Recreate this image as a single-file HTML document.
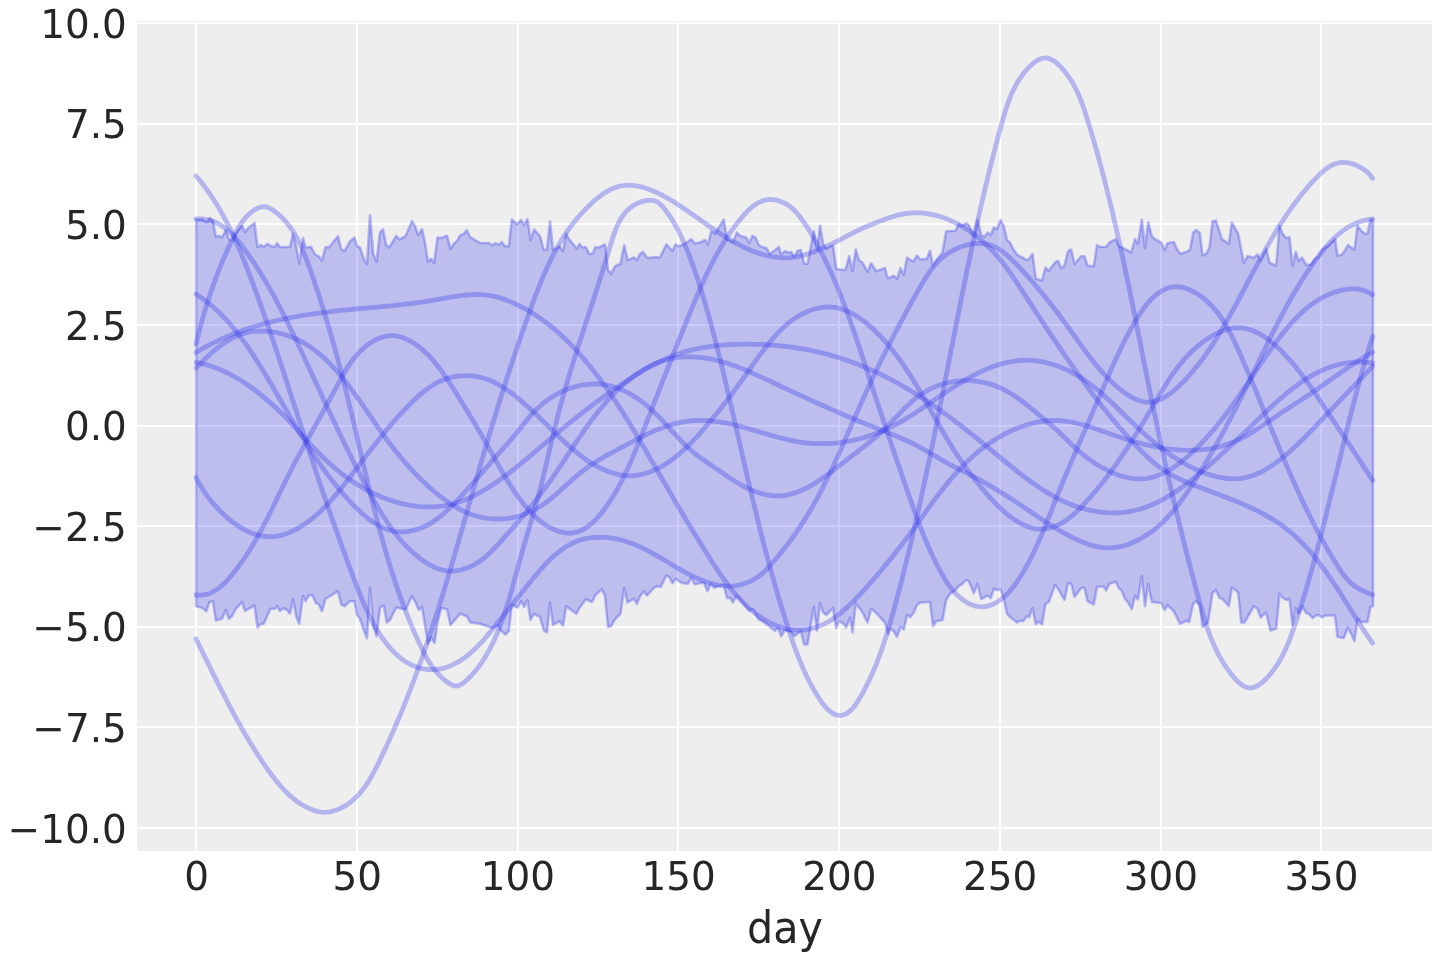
<!DOCTYPE html>
<html lang="en"><head><meta charset="utf-8"><title>day</title>
<style>html,body{margin:0;padding:0;background:#fff}body{width:1440px;height:960px;overflow:hidden}svg{display:block;will-change:transform}text{font-family:"DejaVu Sans","Liberation Sans",sans-serif;fill:#262626}</style></head><body>
<svg width="1440" height="960" viewBox="0 0 1440 960">
<rect x="0" y="0" width="1440" height="960" fill="#ffffff"/>
<rect x="137" y="21" width="1295.0" height="830.0" fill="#eeeeee"/>
<path d="M196,21V851M357,21V851M518,21V851M678,21V851M839,21V851M1000,21V851M1161,21V851M1321,21V851M137,828H1432M137,727H1432M137,627H1432M137,526H1432M137,426H1432M137,325H1432M137,224H1432M137,124H1432M137,23H1432" stroke="#ffffff" stroke-width="2" fill="none"/>
<path d="M196.2,219.5 L202.5,219.5 L206.2,222.5 L210.0,218.0 L213.0,221.2 L215.8,237.0 L219.5,235.8 L222.0,237.5 L225.8,230.0 L228.8,239.2 L232.5,240.0 L236.2,232.5 L242.0,225.8 L245.0,232.0 L248.8,227.5 L254.5,223.0 L257.5,247.0 L261.2,245.0 L263.8,247.0 L267.5,243.8 L271.2,246.2 L275.0,247.0 L277.0,243.2 L280.0,247.0 L290.0,247.0 L293.0,233.8 L296.2,246.2 L299.2,263.8 L303.0,238.0 L305.5,247.5 L311.2,247.0 L315.0,254.5 L318.8,256.2 L322.0,260.5 L325.5,247.0 L328.8,247.5 L338.0,236.2 L341.2,249.2 L344.5,251.2 L350.0,241.2 L354.5,237.5 L357.0,246.2 L360.0,247.5 L363.8,258.8 L367.0,264.2 L370.0,215.0 L373.2,253.8 L376.5,261.8 L380.0,232.5 L383.0,229.5 L386.2,245.0 L389.2,247.5 L396.2,235.8 L399.5,239.5 L405.5,236.2 L412.0,221.2 L415.0,226.2 L418.2,235.0 L422.0,229.2 L425.0,242.5 L428.0,261.8 L431.2,258.8 L434.2,263.0 L437.5,237.5 L440.8,238.0 L447.0,235.8 L450.5,248.8 L453.8,243.8 L457.0,241.2 L460.0,235.5 L463.8,233.8 L466.8,230.0 L470.0,237.0 L480.0,243.0 L488.8,243.0 L492.5,245.5 L495.5,243.0 L498.8,245.0 L501.8,242.0 L505.0,246.2 L508.8,246.2 L511.8,219.5 L516.8,224.2 L521.2,220.0 L524.2,225.0 L527.5,218.8 L530.5,240.0 L534.2,229.5 L540.0,236.2 L543.8,250.0 L547.0,249.5 L550.0,221.2 L553.0,249.5 L556.2,248.8 L559.5,246.2 L563.0,251.2 L566.2,233.8 L569.5,240.0 L573.0,243.8 L576.8,248.8 L579.5,243.8 L582.5,247.5 L585.8,247.0 L589.2,253.8 L592.5,253.8 L595.5,247.0 L598.8,247.5 L605.0,244.5 L608.0,270.0 L611.2,273.8 L615.0,266.2 L620.5,263.8 L624.2,245.0 L627.5,260.0 L630.8,258.8 L633.8,257.5 L637.0,260.0 L640.0,253.8 L643.0,252.0 L647.0,257.5 L650.0,258.0 L653.8,257.0 L660.0,257.5 L666.2,244.5 L672.5,250.8 L675.5,244.5 L678.8,246.2 L685.0,243.8 L691.2,239.2 L694.5,243.2 L700.0,242.5 L705.0,240.0 L708.0,244.5 L711.2,231.2 L715.0,233.8 L723.8,219.5 L727.0,239.5 L730.0,240.0 L733.0,242.5 L736.8,232.5 L740.0,235.8 L746.2,237.5 L749.2,243.2 L752.5,235.8 L755.5,237.5 L758.8,245.0 L762.0,247.0 L766.2,248.0 L770.0,253.8 L775.0,250.0 L778.8,247.0 L781.2,254.5 L785.0,251.2 L788.0,252.5 L791.2,252.0 L794.2,257.0 L797.5,250.8 L800.8,250.0 L804.2,263.8 L807.5,263.8 L813.8,231.2 L817.0,250.0 L820.0,225.8 L823.2,243.8 L826.2,248.8 L833.0,245.5 L836.2,268.8 L840.0,269.5 L845.5,270.0 L849.2,256.2 L852.5,271.2 L855.8,249.5 L858.8,260.0 L862.5,262.5 L867.5,271.8 L871.2,263.2 L876.2,271.2 L885.0,268.0 L887.5,278.0 L890.0,277.5 L893.8,275.8 L897.0,278.8 L900.5,268.2 L903.8,275.0 L907.0,257.5 L910.5,260.0 L913.8,261.2 L917.0,255.5 L920.5,259.5 L926.8,258.8 L930.0,250.8 L933.0,266.2 L936.2,260.0 L942.5,252.5 L946.2,231.2 L955.5,230.8 L958.8,223.8 L962.5,225.8 L965.8,223.2 L968.8,225.0 L973.8,236.2 L977.5,219.5 L981.2,235.0 L984.5,236.8 L987.5,232.5 L990.8,235.0 L993.8,227.5 L997.0,229.2 L1000.5,220.0 L1003.8,226.2 L1007.0,240.0 L1010.0,242.5 L1013.8,250.0 L1017.5,255.0 L1027.0,260.0 L1029.2,258.8 L1032.5,253.8 L1035.8,278.8 L1042.0,280.5 L1045.5,267.5 L1048.8,270.8 L1055.0,262.5 L1058.0,260.8 L1061.2,268.0 L1064.5,265.8 L1068.0,251.2 L1071.2,249.5 L1074.5,264.2 L1081.2,256.2 L1084.5,256.2 L1087.5,265.8 L1093.8,266.2 L1097.0,245.0 L1100.0,246.8 L1106.2,247.0 L1109.5,242.5 L1115.8,239.2 L1118.8,246.2 L1122.0,247.5 L1131.2,252.5 L1135.0,239.2 L1138.0,243.8 L1141.8,219.5 L1145.0,248.0 L1148.2,222.5 L1151.8,236.2 L1155.0,239.2 L1161.2,242.5 L1164.5,250.0 L1167.5,243.2 L1173.8,242.0 L1177.0,249.2 L1180.0,253.8 L1186.2,252.0 L1190.0,249.5 L1193.2,232.5 L1196.2,230.0 L1200.0,233.2 L1202.5,255.5 L1206.2,253.8 L1209.5,247.5 L1212.5,221.2 L1215.8,220.5 L1222.0,239.2 L1228.8,243.8 L1231.8,222.5 L1238.2,233.8 L1243.8,263.2 L1247.5,256.2 L1253.8,257.5 L1257.5,254.5 L1260.5,260.8 L1266.2,248.8 L1269.5,262.5 L1276.2,265.8 L1279.5,225.8 L1282.5,233.8 L1286.2,238.2 L1289.5,237.0 L1292.5,265.8 L1295.8,252.0 L1298.8,261.2 L1302.0,257.5 L1306.2,265.0 L1311.2,264.5 L1315.0,258.8 L1318.8,256.2 L1322.0,250.0 L1325.0,247.5 L1328.8,245.5 L1335.0,238.8 L1337.5,255.5 L1341.2,255.0 L1344.5,251.2 L1348.0,245.0 L1351.2,247.5 L1354.5,249.5 L1357.5,225.8 L1361.2,230.8 L1365.0,233.8 L1367.5,233.8 L1370.5,219.5 L1373.0,219.5 L1373.0,606.2 L1370.5,607.0 L1367.5,622.0 L1361.2,622.0 L1357.5,618.8 L1354.5,641.2 L1351.2,633.8 L1348.0,627.5 L1343.8,638.0 L1337.5,637.0 L1335.0,615.5 L1325.0,615.5 L1322.0,617.5 L1318.8,615.0 L1315.8,615.5 L1312.5,618.0 L1308.8,613.8 L1306.2,613.2 L1302.0,606.2 L1298.8,613.8 L1295.8,608.0 L1292.5,625.0 L1289.5,598.8 L1286.2,600.0 L1283.0,598.0 L1279.5,593.8 L1276.2,628.8 L1270.5,630.5 L1266.2,612.5 L1260.5,617.5 L1257.5,608.8 L1253.8,606.2 L1244.5,622.5 L1241.2,622.5 L1238.2,592.5 L1231.8,587.5 L1228.8,606.2 L1222.5,598.8 L1219.5,598.0 L1215.8,590.0 L1212.5,593.0 L1208.0,622.5 L1202.5,627.0 L1200.0,605.0 L1196.2,601.2 L1193.2,603.8 L1189.2,622.0 L1186.2,620.8 L1180.0,623.8 L1173.8,611.2 L1167.5,605.0 L1164.5,610.0 L1161.2,603.0 L1151.8,602.0 L1148.2,583.8 L1145.0,606.2 L1141.8,576.2 L1138.0,599.5 L1135.0,595.8 L1131.8,609.2 L1128.2,602.5 L1125.0,598.8 L1122.0,591.2 L1118.8,588.0 L1115.8,581.8 L1109.5,583.8 L1106.2,590.5 L1103.2,586.2 L1097.0,587.0 L1093.8,604.5 L1087.5,601.2 L1084.5,588.0 L1081.2,588.0 L1074.5,597.0 L1071.2,583.8 L1068.0,583.2 L1064.5,600.0 L1058.0,588.8 L1055.0,585.0 L1048.8,602.0 L1045.5,603.8 L1042.0,624.2 L1038.8,621.8 L1035.8,624.2 L1032.5,608.0 L1029.2,617.0 L1027.0,616.2 L1023.2,621.2 L1020.0,620.8 L1017.0,622.5 L1010.0,617.0 L1007.0,613.8 L1003.8,598.8 L1000.5,589.5 L997.0,590.0 L993.8,588.8 L990.8,598.0 L987.5,595.5 L981.2,599.2 L977.5,583.8 L973.8,593.0 L968.8,581.2 L965.8,580.0 L962.5,583.8 L958.8,586.2 L955.5,590.0 L950.0,593.8 L946.2,600.0 L942.5,620.0 L936.2,621.2 L933.0,626.2 L930.0,602.0 L920.5,602.5 L917.0,605.0 L913.8,612.5 L910.5,617.0 L907.0,615.0 L903.8,629.5 L900.5,627.0 L897.0,637.0 L893.8,631.2 L890.0,628.2 L888.0,633.8 L885.0,622.5 L876.2,613.0 L871.2,608.8 L867.5,622.5 L862.5,612.5 L855.8,603.2 L852.5,632.5 L850.0,617.5 L846.2,627.5 L843.8,623.8 L839.2,620.8 L836.2,628.0 L833.0,608.0 L826.2,615.0 L823.2,612.5 L820.0,603.0 L817.0,630.5 L813.8,607.0 L807.5,644.5 L804.2,644.5 L800.8,631.2 L794.2,636.2 L791.2,632.0 L785.0,630.0 L781.2,636.2 L778.0,627.5 L775.0,630.8 L762.0,620.8 L758.8,619.5 L752.5,608.8 L749.5,610.8 L740.0,599.5 L736.2,595.8 L733.0,602.5 L730.0,597.5 L727.0,598.2 L723.8,585.0 L717.5,586.2 L714.5,588.0 L710.8,583.8 L707.5,591.2 L703.8,582.5 L694.5,584.2 L691.2,577.5 L688.2,583.8 L682.0,583.0 L675.5,578.8 L672.5,583.2 L669.2,577.0 L666.2,575.8 L660.8,587.0 L657.5,586.2 L653.8,588.0 L647.0,595.5 L643.8,591.2 L640.0,596.2 L637.0,603.8 L633.8,598.8 L627.5,602.5 L624.2,588.0 L620.5,613.8 L615.0,619.2 L611.2,626.2 L608.0,627.0 L605.0,595.8 L602.0,589.2 L595.5,595.0 L592.0,602.0 L585.8,599.2 L579.5,608.0 L576.2,613.8 L566.2,606.2 L563.0,625.8 L559.5,621.2 L553.0,625.0 L550.0,602.5 L547.0,632.5 L543.8,630.5 L540.0,617.0 L533.8,613.8 L530.5,620.0 L527.5,600.0 L524.2,607.0 L521.2,601.2 L517.5,607.5 L511.8,604.5 L508.8,631.2 L505.5,634.5 L500.0,630.0 L498.8,625.0 L492.5,628.0 L480.0,623.8 L470.5,622.5 L466.8,616.2 L460.0,613.8 L450.5,625.0 L447.0,609.2 L441.2,608.0 L437.5,622.5 L434.5,643.0 L431.2,637.5 L428.0,643.8 L425.0,625.0 L422.0,607.0 L418.8,610.0 L415.0,601.2 L412.0,596.2 L405.5,609.5 L396.2,607.5 L390.0,620.0 L386.8,622.5 L383.8,605.5 L380.0,607.5 L376.5,636.2 L373.2,625.8 L370.0,588.0 L367.0,638.2 L363.8,630.0 L360.0,618.8 L357.0,615.0 L354.5,601.2 L350.0,601.2 L344.5,606.2 L341.2,604.5 L338.0,591.2 L325.5,598.8 L322.0,611.2 L318.8,604.5 L315.8,603.0 L312.5,595.0 L308.8,595.5 L305.5,601.2 L303.0,596.2 L299.2,623.8 L296.2,616.2 L293.0,599.2 L290.0,613.8 L287.0,610.0 L283.0,608.2 L280.0,611.2 L277.0,606.2 L275.0,608.8 L270.5,608.8 L263.8,623.8 L261.2,623.8 L257.5,627.5 L254.5,605.5 L245.0,610.8 L242.0,602.0 L235.8,608.8 L232.0,616.2 L228.8,618.8 L225.8,610.0 L222.0,618.8 L215.8,620.5 L213.0,601.2 L209.5,602.0 L206.2,611.2 L202.5,608.0 L196.2,606.2Z" fill="#2a2eec" fill-opacity="0.25" stroke="#2a2eec" stroke-opacity="0.3" stroke-width="2.6" stroke-linejoin="round"/>
<g fill="none" stroke="#2a2eec" stroke-opacity="0.3" stroke-width="4.8" stroke-linecap="round" stroke-linejoin="round">
<path d="M196.0,176.0 L198.0,178.3 L199.9,180.6 L201.8,182.9 L203.6,185.3 L205.4,187.7 L207.2,190.1 L208.9,192.5 L210.6,195.0 L212.3,197.5 L213.9,200.0 L215.5,202.5 L217.1,205.0 L218.7,207.6 L220.2,210.2 L221.6,212.8 L223.1,215.4 L224.5,218.0 L225.9,220.6 L227.3,223.3 L228.7,226.0 L230.0,228.6 L231.3,231.3 L232.6,234.1 L233.8,236.8 L235.1,239.5 L236.3,242.2 L237.5,245.0 L238.7,247.8 L239.9,250.5 L241.1,253.3 L242.2,256.1 L243.3,258.9 L244.5,261.7 L245.6,264.5 L246.7,267.3 L247.8,270.1 L248.8,272.9 L249.9,275.7 L251.0,278.5 L252.0,281.3 L253.1,284.1 L254.1,286.9 L255.2,289.8 L256.2,292.6 L257.3,295.4 L258.3,298.2 L259.3,301.0 L260.3,303.9 L261.3,306.7 L262.3,309.5 L263.3,312.3 L264.3,315.2 L265.3,318.0 L266.3,320.8 L267.3,323.7 L268.3,326.5 L269.2,329.3 L270.2,332.1 L271.2,335.0 L272.1,337.8 L273.1,340.6 L274.1,343.5 L275.0,346.3 L276.0,349.2 L276.9,352.0 L277.8,354.8 L278.8,357.7 L279.7,360.5 L280.7,363.4 L281.6,366.2 L282.5,369.0 L283.5,371.9 L284.4,374.7 L285.3,377.6 L286.2,380.4 L287.2,383.3 L288.1,386.1 L289.0,389.0 L289.9,391.8 L290.9,394.7 L291.8,397.5 L292.7,400.4 L293.6,403.2 L294.6,406.1 L295.5,408.9 L296.4,411.8 L297.3,414.6 L298.2,417.5 L299.2,420.3 L300.1,423.2 L301.0,426.0 L301.9,428.9 L302.9,431.7 L303.8,434.6 L304.7,437.4 L305.6,440.3 L306.6,443.1 L307.5,446.0 L308.4,448.9 L309.4,451.7 L310.3,454.6 L311.3,457.4 L312.2,460.3 L313.2,463.1 L314.1,466.0 L315.1,468.8 L316.0,471.7 L317.0,474.5 L317.9,477.4 L318.9,480.2 L319.8,483.1 L320.8,486.0 L321.8,488.8 L322.7,491.7 L323.7,494.5 L324.7,497.3 L325.7,500.2 L326.6,503.0 L327.6,505.9 L328.6,508.7 L329.6,511.6 L330.6,514.4 L331.6,517.2 L332.6,520.1 L333.6,522.9 L334.6,525.7 L335.6,528.6 L336.6,531.4 L337.6,534.2 L338.6,537.0 L339.6,539.9 L340.6,542.7 L341.6,545.5 L342.6,548.3 L343.7,551.1 L344.7,553.9 L345.7,556.7 L346.7,559.6 L347.8,562.4 L348.8,565.2 L349.8,567.9 L350.9,570.7 L351.9,573.5 L353.0,576.3 L354.0,579.1 L355.1,581.9 L356.1,584.7 L357.2,587.4 L358.3,590.2 L359.3,593.0 L360.4,595.7 L361.6,598.5 L362.7,601.2 L363.9,603.9 L365.1,606.7 L366.3,609.4 L367.5,612.1 L368.8,614.8 L370.2,617.5 L371.5,620.2 L373.0,622.8 L374.5,625.5 L376.0,628.1 L377.6,630.8 L379.2,633.4 L380.9,636.0 L382.7,638.5 L384.5,641.1 L386.4,643.5 L388.3,645.9 L390.3,648.3 L392.4,650.5 L394.5,652.7 L396.8,654.8 L399.0,656.8 L401.4,658.7 L403.8,660.4 L406.2,662.0 L408.8,663.5 L411.4,664.9 L414.0,666.1 L416.8,667.1 L419.6,668.0 L422.4,668.7 L425.3,669.2 L428.3,669.5 L431.2,669.7 L434.1,669.6 L437.1,669.4 L440.0,669.0 L442.9,668.4 L445.7,667.6 L448.5,666.6 L451.3,665.4 L454.0,664.1 L456.7,662.7 L459.4,661.1 L462.0,659.5 L464.5,657.7 L467.0,655.8 L469.4,653.8 L471.8,651.8 L474.1,649.7 L476.3,647.6 L478.5,645.4 L480.6,643.2 L482.7,641.0 L484.7,638.7 L486.6,636.4 L488.5,634.1 L490.4,631.8 L492.3,629.5 L494.1,627.2 L496.0,624.9 L497.8,622.6 L499.6,620.3 L501.4,618.1 L503.3,615.8 L505.1,613.5 L506.9,611.2 L508.7,608.9 L510.5,606.7 L512.4,604.4 L514.2,602.1 L516.0,599.8 L517.9,597.5 L519.7,595.1 L521.6,592.8 L523.5,590.5 L525.3,588.1 L527.2,585.7 L529.2,583.3 L531.1,580.9 L533.0,578.5 L535.0,576.1 L537.0,573.8 L539.0,571.4 L541.0,569.1 L543.1,566.8 L545.2,564.5 L547.3,562.3 L549.5,560.1 L551.7,558.0 L553.9,556.0 L556.2,554.0 L558.5,552.1 L560.9,550.3 L563.3,548.6 L565.7,547.0 L568.2,545.5 L570.8,544.1 L573.4,542.8 L576.0,541.6 L578.7,540.6 L581.5,539.7 L584.3,538.9 L587.2,538.3 L590.2,537.8 L593.2,537.5 L596.2,537.3 L599.2,537.2 L602.3,537.3 L605.3,537.4 L608.4,537.7 L611.5,538.1 L614.5,538.6 L617.5,539.2 L620.5,539.8 L623.4,540.6 L626.3,541.5 L629.1,542.4 L631.9,543.4 L634.6,544.5 L637.4,545.6 L640.1,546.8 L642.7,548.1 L645.4,549.4 L648.0,550.8 L650.6,552.2 L653.2,553.6 L655.8,555.1 L658.3,556.6 L660.9,558.1 L663.5,559.6 L666.1,561.1 L668.6,562.7 L671.2,564.2 L673.8,565.8 L676.4,567.3 L679.1,568.9 L681.7,570.4 L684.4,571.8 L687.1,573.3 L689.9,574.7 L692.7,576.1 L695.4,577.4 L698.3,578.7 L701.1,579.9 L703.9,581.0 L706.8,582.1 L709.7,583.0 L712.6,583.8 L715.5,584.5 L718.4,585.1 L721.3,585.6 L724.2,585.9 L727.1,586.1 L730.1,586.1 L733.0,586.0 L735.9,585.6 L738.8,585.1 L741.6,584.4 L744.5,583.6 L747.3,582.6 L750.0,581.4 L752.7,580.1 L755.3,578.6 L757.8,576.9 L760.2,575.1 L762.5,573.2 L764.8,571.2 L766.9,569.0 L769.0,566.8 L771.0,564.6 L773.0,562.3 L775.0,559.9 L776.9,557.6 L778.9,555.2 L780.8,552.9 L782.7,550.5 L784.5,548.2 L786.4,545.8 L788.2,543.4 L790.0,541.0 L791.8,538.6 L793.5,536.2 L795.3,533.8 L797.0,531.3 L798.7,528.9 L800.3,526.4 L802.0,523.9 L803.6,521.4 L805.2,518.9 L806.8,516.3 L808.3,513.8 L809.8,511.2 L811.3,508.7 L812.8,506.1 L814.3,503.5 L815.8,500.9 L817.2,498.2 L818.6,495.6 L820.0,493.0 L821.4,490.3 L822.8,487.7 L824.1,485.0 L825.5,482.3 L826.8,479.6 L828.1,476.9 L829.4,474.2 L830.7,471.5 L832.0,468.8 L833.3,466.1 L834.5,463.3 L835.8,460.6 L837.0,457.9 L838.3,455.1 L839.5,452.4 L840.7,449.6 L842.0,446.9 L843.2,444.1 L844.4,441.4 L845.6,438.6 L846.8,435.8 L848.0,433.1 L849.2,430.3 L850.4,427.6 L851.6,424.8 L852.8,422.0 L854.0,419.3 L855.2,416.5 L856.4,413.8 L857.6,411.0 L858.9,408.3 L860.1,405.5 L861.3,402.8 L862.5,400.1 L863.8,397.3 L865.0,394.6 L866.2,391.9 L867.5,389.2 L868.8,386.5 L870.0,383.8 L871.3,381.1 L872.5,378.4 L873.8,375.7 L875.1,373.0 L876.4,370.3 L877.7,367.6 L879.0,364.9 L880.3,362.2 L881.6,359.5 L882.9,356.9 L884.3,354.2 L885.6,351.5 L886.9,348.9 L888.3,346.2 L889.6,343.5 L891.0,340.9 L892.3,338.2 L893.7,335.5 L895.1,332.9 L896.5,330.2 L897.9,327.6 L899.3,324.9 L900.7,322.3 L902.1,319.6 L903.5,317.0 L904.9,314.4 L906.3,311.7 L907.8,309.1 L909.2,306.4 L910.7,303.8 L912.1,301.2 L913.6,298.5 L915.1,295.9 L916.6,293.3 L918.1,290.6 L919.6,288.0 L921.1,285.4 L922.6,282.7 L924.2,280.2 L925.8,277.6 L927.4,275.1 L929.1,272.6 L930.9,270.2 L932.7,267.8 L934.6,265.5 L936.6,263.3 L938.7,261.1 L940.9,259.0 L943.2,257.1 L945.6,255.2 L948.1,253.4 L950.7,251.8 L953.3,250.3 L956.1,248.9 L958.8,247.6 L961.7,246.5 L964.5,245.6 L967.4,244.8 L970.3,244.2 L973.2,243.7 L976.2,243.5 L979.0,243.4 L981.9,243.5 L984.8,243.8 L987.6,244.4 L990.3,245.1 L993.0,246.1 L995.6,247.3 L998.1,248.7 L1000.6,250.3 L1003.1,252.0 L1005.4,253.9 L1007.8,255.9 L1010.1,258.0 L1012.3,260.1 L1014.5,262.4 L1016.7,264.6 L1018.9,266.9 L1021.0,269.1 L1023.1,271.4 L1025.2,273.7 L1027.2,275.9 L1029.3,278.2 L1031.3,280.5 L1033.3,282.8 L1035.2,285.1 L1037.2,287.4 L1039.1,289.7 L1041.0,292.0 L1042.9,294.3 L1044.8,296.6 L1046.7,298.9 L1048.5,301.3 L1050.4,303.6 L1052.2,305.9 L1054.0,308.3 L1055.8,310.6 L1057.6,313.0 L1059.4,315.3 L1061.1,317.7 L1062.9,320.1 L1064.6,322.4 L1066.4,324.8 L1068.1,327.2 L1069.9,329.6 L1071.6,332.0 L1073.4,334.4 L1075.1,336.8 L1076.8,339.2 L1078.5,341.6 L1080.3,344.1 L1082.0,346.5 L1083.8,348.9 L1085.5,351.3 L1087.3,353.7 L1089.1,356.1 L1090.9,358.5 L1092.8,360.9 L1094.6,363.2 L1096.5,365.6 L1098.5,367.9 L1100.4,370.2 L1102.4,372.4 L1104.5,374.7 L1106.6,376.9 L1108.7,379.1 L1110.9,381.2 L1113.2,383.3 L1115.5,385.4 L1117.9,387.5 L1120.3,389.4 L1122.8,391.4 L1125.3,393.2 L1127.9,395.0 L1130.5,396.6 L1133.1,398.0 L1135.8,399.3 L1138.5,400.4 L1141.2,401.2 L1143.9,401.8 L1146.6,402.2 L1149.3,402.2 L1152.0,401.9 L1154.7,401.4 L1157.3,400.6 L1159.9,399.6 L1162.5,398.4 L1165.1,396.9 L1167.6,395.3 L1170.1,393.6 L1172.6,391.7 L1175.0,389.6 L1177.4,387.5 L1179.7,385.3 L1182.0,383.1 L1184.2,380.8 L1186.4,378.5 L1188.5,376.2 L1190.5,373.9 L1192.6,371.6 L1194.5,369.2 L1196.4,366.9 L1198.3,364.5 L1200.2,362.1 L1202.0,359.7 L1203.7,357.3 L1205.5,354.9 L1207.2,352.5 L1208.8,350.0 L1210.5,347.6 L1212.1,345.1 L1213.7,342.7 L1215.3,340.2 L1216.9,337.7 L1218.4,335.1 L1220.0,332.6 L1221.5,330.1 L1223.0,327.5 L1224.5,324.9 L1226.0,322.3 L1227.5,319.8 L1229.0,317.2 L1230.4,314.6 L1231.9,311.9 L1233.3,309.3 L1234.7,306.7 L1236.2,304.0 L1237.6,301.4 L1239.0,298.8 L1240.4,296.1 L1241.8,293.5 L1243.3,290.8 L1244.7,288.1 L1246.1,285.5 L1247.5,282.8 L1248.9,280.1 L1250.3,277.5 L1251.7,274.8 L1253.1,272.2 L1254.6,269.5 L1256.0,266.8 L1257.4,264.2 L1258.8,261.5 L1260.3,258.9 L1261.7,256.2 L1263.2,253.6 L1264.7,250.9 L1266.1,248.3 L1267.6,245.7 L1269.1,243.1 L1270.6,240.5 L1272.1,237.9 L1273.7,235.3 L1275.2,232.7 L1276.8,230.1 L1278.4,227.6 L1280.0,225.0 L1281.6,222.5 L1283.2,220.0 L1284.9,217.5 L1286.5,215.0 L1288.2,212.5 L1289.9,210.1 L1291.7,207.6 L1293.4,205.2 L1295.2,202.8 L1297.0,200.4 L1298.9,198.0 L1300.7,195.6 L1302.6,193.3 L1304.5,191.0 L1306.4,188.7 L1308.4,186.4 L1310.4,184.2 L1312.4,181.9 L1314.5,179.7 L1316.6,177.5 L1318.7,175.4 L1320.9,173.3 L1323.1,171.3 L1325.4,169.4 L1327.7,167.7 L1330.1,166.2 L1332.6,164.9 L1335.2,163.8 L1337.8,163.0 L1340.6,162.5 L1343.5,162.4 L1346.5,162.6 L1349.5,163.1 L1352.6,163.9 L1355.6,164.9 L1358.5,166.3 L1361.4,167.8 L1364.0,169.6 L1366.6,171.6 L1368.8,173.7 L1370.9,176.0 L1372.6,178.4"/>
<path d="M196.0,219.0 L199.2,218.9 L202.4,219.0 L205.4,219.4 L208.3,219.9 L211.1,220.7 L213.8,221.6 L216.4,222.8 L219.0,224.1 L221.4,225.5 L223.8,227.2 L226.1,228.9 L228.3,230.8 L230.5,232.7 L232.6,234.8 L234.6,237.0 L236.6,239.3 L238.6,241.6 L240.5,243.9 L242.4,246.4 L244.2,248.8 L246.0,251.3 L247.8,253.8 L249.5,256.3 L251.3,258.8 L253.0,261.4 L254.6,263.9 L256.3,266.4 L257.9,269.0 L259.5,271.5 L261.1,274.1 L262.7,276.7 L264.3,279.3 L265.8,281.8 L267.3,284.4 L268.8,287.0 L270.3,289.6 L271.8,292.3 L273.2,294.9 L274.7,297.5 L276.1,300.1 L277.5,302.8 L278.9,305.4 L280.3,308.1 L281.6,310.7 L283.0,313.4 L284.3,316.0 L285.7,318.7 L287.0,321.4 L288.3,324.0 L289.6,326.7 L290.9,329.4 L292.2,332.1 L293.5,334.8 L294.8,337.4 L296.1,340.1 L297.4,342.8 L298.6,345.5 L299.9,348.2 L301.2,350.9 L302.4,353.6 L303.7,356.3 L304.9,359.0 L306.2,361.7 L307.4,364.4 L308.7,367.1 L309.9,369.9 L311.2,372.6 L312.5,375.3 L313.7,378.0 L315.0,380.7 L316.2,383.4 L317.5,386.1 L318.7,388.8 L320.0,391.5 L321.2,394.2 L322.5,397.0 L323.7,399.7 L325.0,402.4 L326.3,405.1 L327.5,407.8 L328.8,410.5 L330.1,413.2 L331.3,415.9 L332.6,418.6 L333.9,421.3 L335.2,424.1 L336.4,426.8 L337.7,429.5 L339.0,432.2 L340.3,434.9 L341.6,437.6 L342.9,440.3 L344.2,443.0 L345.5,445.7 L346.9,448.4 L348.2,451.0 L349.5,453.7 L350.9,456.4 L352.2,459.1 L353.6,461.8 L354.9,464.5 L356.3,467.1 L357.6,469.8 L359.0,472.5 L360.4,475.2 L361.8,477.8 L363.2,480.5 L364.6,483.2 L366.0,485.8 L367.4,488.5 L368.9,491.1 L370.3,493.8 L371.8,496.4 L373.2,499.1 L374.7,501.7 L376.2,504.3 L377.7,506.9 L379.2,509.5 L380.8,512.1 L382.3,514.7 L383.9,517.2 L385.6,519.7 L387.2,522.3 L388.9,524.7 L390.6,527.2 L392.4,529.6 L394.2,532.0 L396.0,534.4 L397.9,536.7 L399.8,539.0 L401.8,541.3 L403.8,543.5 L405.8,545.7 L407.9,547.9 L410.1,550.0 L412.3,552.0 L414.6,554.0 L416.9,556.0 L419.3,557.9 L421.7,559.7 L424.2,561.5 L426.7,563.1 L429.3,564.6 L432.0,566.0 L434.6,567.3 L437.4,568.4 L440.1,569.3 L442.9,570.1 L445.7,570.6 L448.6,570.9 L451.5,571.0 L454.4,570.9 L457.3,570.6 L460.2,570.0 L463.1,569.3 L465.9,568.4 L468.7,567.3 L471.5,566.0 L474.2,564.6 L476.8,563.1 L479.4,561.4 L481.9,559.7 L484.2,557.8 L486.6,555.9 L488.8,553.8 L491.0,551.7 L493.2,549.6 L495.3,547.4 L497.4,545.1 L499.5,542.9 L501.6,540.6 L503.6,538.3 L505.6,536.0 L507.7,533.7 L509.7,531.5 L511.7,529.2 L513.7,526.9 L515.7,524.6 L517.6,522.3 L519.6,520.0 L521.5,517.7 L523.5,515.4 L525.4,513.1 L527.3,510.7 L529.2,508.4 L531.1,506.1 L533.0,503.8 L534.8,501.4 L536.7,499.1 L538.5,496.7 L540.3,494.3 L542.1,492.0 L543.9,489.6 L545.7,487.2 L547.4,484.8 L549.2,482.4 L550.9,480.0 L552.6,477.5 L554.3,475.1 L556.0,472.7 L557.6,470.2 L559.3,467.7 L560.9,465.3 L562.6,462.8 L564.2,460.3 L565.9,457.8 L567.5,455.3 L569.1,452.9 L570.8,450.4 L572.4,447.9 L574.0,445.4 L575.7,442.9 L577.3,440.5 L579.0,438.0 L580.7,435.5 L582.4,433.1 L584.1,430.6 L585.8,428.2 L587.5,425.7 L589.3,423.3 L591.0,420.9 L592.8,418.5 L594.7,416.1 L596.5,413.7 L598.4,411.3 L600.3,409.0 L602.2,406.7 L604.2,404.4 L606.1,402.1 L608.2,399.8 L610.2,397.5 L612.3,395.3 L614.5,393.1 L616.6,391.0 L618.8,388.8 L621.0,386.7 L623.3,384.7 L625.6,382.7 L627.9,380.8 L630.3,378.9 L632.7,377.0 L635.1,375.2 L637.5,373.5 L640.0,371.9 L642.5,370.3 L645.1,368.8 L647.7,367.3 L650.3,366.0 L652.9,364.7 L655.6,363.5 L658.3,362.4 L661.1,361.4 L663.9,360.5 L666.7,359.6 L669.5,358.9 L672.4,358.3 L675.3,357.8 L678.2,357.4 L681.1,357.1 L684.1,356.9 L687.1,356.8 L690.1,356.8 L693.2,356.9 L696.2,357.1 L699.2,357.4 L702.2,357.7 L705.3,358.1 L708.3,358.6 L711.3,359.2 L714.2,359.8 L717.2,360.5 L720.1,361.3 L723.0,362.1 L725.9,362.9 L728.8,363.8 L731.6,364.8 L734.5,365.8 L737.3,366.8 L740.1,367.9 L742.8,369.0 L745.6,370.1 L748.3,371.3 L751.1,372.5 L753.8,373.7 L756.5,374.9 L759.2,376.2 L762.0,377.4 L764.7,378.7 L767.4,379.9 L770.1,381.2 L772.8,382.5 L775.5,383.8 L778.2,385.0 L780.9,386.3 L783.6,387.6 L786.3,388.8 L789.0,390.1 L791.7,391.4 L794.5,392.6 L797.2,393.9 L799.9,395.1 L802.6,396.4 L805.3,397.6 L808.0,398.9 L810.8,400.1 L813.5,401.4 L816.2,402.6 L818.9,403.8 L821.7,405.0 L824.4,406.3 L827.1,407.5 L829.9,408.7 L832.6,409.9 L835.4,411.1 L838.1,412.3 L840.8,413.5 L843.6,414.7 L846.3,415.8 L849.1,417.0 L851.9,418.2 L854.6,419.3 L857.4,420.5 L860.1,421.6 L862.9,422.8 L865.7,423.9 L868.5,425.0 L871.3,426.1 L874.0,427.2 L876.8,428.3 L879.6,429.4 L882.4,430.5 L885.2,431.6 L888.0,432.7 L890.7,433.9 L893.5,435.0 L896.3,436.1 L899.0,437.3 L901.7,438.5 L904.5,439.7 L907.2,440.9 L909.9,442.2 L912.6,443.5 L915.3,444.9 L917.9,446.2 L920.5,447.6 L923.2,449.1 L925.7,450.6 L928.3,452.1 L930.9,453.6 L933.5,455.2 L936.1,456.7 L938.7,458.2 L941.2,459.8 L943.9,461.2 L946.5,462.7 L949.1,464.1 L951.8,465.5 L954.4,466.9 L957.1,468.2 L959.8,469.6 L962.5,470.9 L965.2,472.2 L967.8,473.6 L970.5,475.0 L973.2,476.3 L975.8,477.8 L978.4,479.2 L981.1,480.6 L983.7,482.1 L986.3,483.6 L988.9,485.1 L991.4,486.6 L994.0,488.1 L996.6,489.6 L999.1,491.2 L1001.6,492.8 L1004.2,494.3 L1006.7,495.9 L1009.2,497.5 L1011.7,499.2 L1014.2,500.8 L1016.7,502.4 L1019.2,504.1 L1021.7,505.7 L1024.1,507.4 L1026.6,509.1 L1029.1,510.8 L1031.5,512.4 L1034.0,514.1 L1036.5,515.8 L1038.9,517.4 L1041.4,519.1 L1043.9,520.7 L1046.4,522.4 L1048.9,524.0 L1051.4,525.6 L1054.0,527.2 L1056.6,528.7 L1059.1,530.3 L1061.7,531.8 L1064.4,533.3 L1067.0,534.7 L1069.7,536.2 L1072.4,537.5 L1075.2,538.9 L1078.0,540.2 L1080.7,541.4 L1083.6,542.5 L1086.4,543.6 L1089.2,544.6 L1092.1,545.4 L1095.0,546.2 L1097.9,546.8 L1100.8,547.3 L1103.7,547.6 L1106.7,547.8 L1109.6,547.8 L1112.5,547.7 L1115.5,547.4 L1118.4,546.9 L1121.3,546.3 L1124.2,545.6 L1127.1,544.7 L1129.9,543.7 L1132.7,542.5 L1135.5,541.3 L1138.2,540.0 L1140.9,538.5 L1143.5,537.0 L1146.1,535.4 L1148.6,533.8 L1151.1,532.1 L1153.5,530.3 L1155.8,528.4 L1158.1,526.5 L1160.3,524.5 L1162.5,522.5 L1164.6,520.4 L1166.7,518.3 L1168.7,516.2 L1170.7,513.9 L1172.7,511.7 L1174.6,509.4 L1176.4,507.1 L1178.3,504.7 L1180.1,502.3 L1181.9,499.9 L1183.6,497.5 L1185.3,495.0 L1187.0,492.5 L1188.7,490.0 L1190.4,487.5 L1192.0,485.0 L1193.7,482.4 L1195.3,479.9 L1196.9,477.3 L1198.4,474.8 L1200.0,472.2 L1201.6,469.6 L1203.2,467.1 L1204.7,464.5 L1206.2,461.9 L1207.8,459.3 L1209.3,456.7 L1210.8,454.1 L1212.3,451.5 L1213.8,448.9 L1215.2,446.3 L1216.7,443.7 L1218.2,441.1 L1219.6,438.5 L1221.1,435.9 L1222.5,433.3 L1223.9,430.6 L1225.4,428.0 L1226.8,425.4 L1228.2,422.7 L1229.6,420.1 L1231.0,417.4 L1232.4,414.8 L1233.7,412.1 L1235.1,409.5 L1236.5,406.8 L1237.8,404.2 L1239.2,401.5 L1240.5,398.8 L1241.9,396.2 L1243.2,393.5 L1244.5,390.8 L1245.9,388.2 L1247.2,385.5 L1248.5,382.8 L1249.8,380.1 L1251.1,377.4 L1252.4,374.7 L1253.7,372.0 L1255.0,369.3 L1256.3,366.6 L1257.6,364.0 L1258.9,361.3 L1260.2,358.6 L1261.5,355.9 L1262.8,353.2 L1264.1,350.5 L1265.5,347.8 L1266.8,345.1 L1268.1,342.4 L1269.4,339.7 L1270.7,337.0 L1272.0,334.3 L1273.4,331.7 L1274.7,329.0 L1276.1,326.3 L1277.4,323.7 L1278.8,321.0 L1280.2,318.3 L1281.6,315.7 L1283.0,313.0 L1284.4,310.4 L1285.8,307.8 L1287.3,305.1 L1288.7,302.5 L1290.2,299.9 L1291.6,297.3 L1293.1,294.7 L1294.7,292.1 L1296.2,289.5 L1297.7,287.0 L1299.3,284.4 L1300.9,281.9 L1302.5,279.3 L1304.1,276.8 L1305.7,274.3 L1307.4,271.8 L1309.1,269.3 L1310.8,266.8 L1312.5,264.3 L1314.3,261.8 L1316.1,259.4 L1317.9,257.0 L1319.7,254.6 L1321.6,252.2 L1323.5,249.8 L1325.4,247.5 L1327.4,245.2 L1329.4,243.0 L1331.4,240.9 L1333.6,238.8 L1335.7,236.7 L1337.9,234.8 L1340.2,232.9 L1342.5,231.1 L1344.9,229.4 L1347.3,227.8 L1349.8,226.3 L1352.4,224.9 L1355.1,223.7 L1357.8,222.5 L1360.6,221.5 L1363.5,220.6 L1366.4,219.9 L1369.5,219.3 L1372.6,218.8"/>
<path d="M196.0,344.0 L196.7,341.1 L197.4,338.2 L198.1,335.3 L198.9,332.4 L199.6,329.5 L200.4,326.6 L201.2,323.7 L202.0,320.8 L202.8,317.9 L203.7,315.0 L204.5,312.1 L205.4,309.3 L206.2,306.4 L207.1,303.5 L208.0,300.7 L209.0,297.8 L209.9,295.0 L210.9,292.1 L211.8,289.3 L212.8,286.4 L213.8,283.6 L214.9,280.8 L215.9,278.0 L217.0,275.2 L218.0,272.4 L219.1,269.6 L220.2,266.8 L221.4,264.0 L222.5,261.2 L223.7,258.5 L224.9,255.7 L226.1,253.0 L227.3,250.2 L228.5,247.5 L229.8,244.8 L231.1,242.1 L232.4,239.4 L233.7,236.7 L235.0,234.0 L236.4,231.4 L237.8,228.8 L239.3,226.2 L240.9,223.7 L242.7,221.2 L244.5,218.9 L246.5,216.6 L248.7,214.5 L251.0,212.4 L253.6,210.5 L256.3,208.9 L259.2,207.5 L262.1,206.8 L265.0,206.7 L267.8,207.4 L270.5,208.6 L273.1,210.2 L275.6,212.0 L278.0,214.0 L280.2,216.0 L282.4,218.0 L284.5,220.2 L286.4,222.4 L288.3,224.7 L290.1,227.1 L291.8,229.5 L293.4,232.0 L294.9,234.5 L296.4,237.1 L297.8,239.7 L299.2,242.4 L300.5,245.1 L301.7,247.8 L302.9,250.5 L304.1,253.3 L305.2,256.1 L306.3,259.0 L307.3,261.8 L308.4,264.7 L309.4,267.5 L310.4,270.4 L311.4,273.2 L312.4,276.1 L313.4,279.0 L314.4,281.8 L315.3,284.7 L316.3,287.5 L317.3,290.4 L318.2,293.3 L319.1,296.1 L320.1,299.0 L321.0,301.9 L321.9,304.7 L322.8,307.6 L323.7,310.4 L324.6,313.3 L325.4,316.2 L326.3,319.0 L327.2,321.9 L328.0,324.8 L328.9,327.7 L329.7,330.5 L330.6,333.4 L331.4,336.3 L332.2,339.1 L333.0,342.0 L333.8,344.9 L334.7,347.8 L335.4,350.7 L336.2,353.5 L337.0,356.4 L337.8,359.3 L338.6,362.2 L339.3,365.1 L340.1,368.0 L340.9,370.8 L341.6,373.7 L342.4,376.6 L343.1,379.5 L343.8,382.4 L344.6,385.3 L345.3,388.2 L346.0,391.1 L346.7,394.0 L347.5,396.9 L348.2,399.8 L348.9,402.8 L349.6,405.7 L350.3,408.6 L351.0,411.5 L351.7,414.4 L352.4,417.3 L353.1,420.2 L353.7,423.2 L354.4,426.1 L355.1,429.0 L355.8,431.9 L356.5,434.8 L357.2,437.8 L357.8,440.7 L358.5,443.6 L359.2,446.5 L359.9,449.4 L360.6,452.4 L361.2,455.3 L361.9,458.2 L362.6,461.1 L363.3,464.1 L364.0,467.0 L364.7,469.9 L365.4,472.8 L366.1,475.7 L366.8,478.7 L367.5,481.6 L368.2,484.5 L368.9,487.4 L369.6,490.3 L370.3,493.3 L371.0,496.2 L371.7,499.1 L372.4,502.0 L373.2,504.9 L373.9,507.8 L374.6,510.7 L375.4,513.7 L376.1,516.6 L376.9,519.5 L377.6,522.4 L378.4,525.3 L379.2,528.2 L380.0,531.1 L380.8,534.0 L381.6,536.9 L382.4,539.7 L383.2,542.6 L384.0,545.5 L384.8,548.4 L385.6,551.3 L386.5,554.2 L387.3,557.0 L388.2,559.9 L389.1,562.8 L390.0,565.7 L390.8,568.5 L391.7,571.4 L392.7,574.2 L393.6,577.1 L394.5,579.9 L395.4,582.8 L396.4,585.6 L397.4,588.5 L398.4,591.3 L399.3,594.1 L400.3,597.0 L401.4,599.8 L402.4,602.6 L403.4,605.4 L404.5,608.2 L405.6,611.0 L406.7,613.8 L407.8,616.6 L408.9,619.4 L410.0,622.1 L411.2,624.9 L412.3,627.7 L413.5,630.4 L414.7,633.2 L415.9,635.9 L417.2,638.7 L418.4,641.4 L419.7,644.1 L421.0,646.8 L422.3,649.5 L423.6,652.2 L425.0,654.9 L426.5,657.5 L427.9,660.1 L429.5,662.6 L431.1,665.1 L432.9,667.6 L434.7,669.9 L436.6,672.3 L438.6,674.5 L440.7,676.7 L443.0,678.7 L445.4,680.7 L447.9,682.6 L450.6,684.3 L453.3,685.6 L456.1,686.1 L458.7,685.6 L461.3,684.4 L463.7,682.7 L466.1,680.7 L468.4,678.5 L470.6,676.3 L472.7,674.0 L474.8,671.7 L476.7,669.3 L478.6,666.9 L480.4,664.5 L482.1,662.0 L483.7,659.4 L485.3,656.9 L486.9,654.3 L488.3,651.7 L489.8,649.1 L491.1,646.4 L492.5,643.7 L493.8,641.0 L495.0,638.3 L496.2,635.6 L497.4,632.9 L498.5,630.1 L499.6,627.3 L500.7,624.5 L501.7,621.7 L502.7,618.9 L503.7,616.1 L504.7,613.2 L505.6,610.4 L506.5,607.5 L507.4,604.7 L508.3,601.8 L509.2,598.9 L510.0,596.0 L510.8,593.1 L511.6,590.3 L512.4,587.4 L513.2,584.5 L514.0,581.6 L514.8,578.6 L515.6,575.7 L516.4,572.8 L517.2,569.9 L518.0,567.0 L518.8,564.1 L519.5,561.3 L520.4,558.4 L521.2,555.5 L522.0,552.6 L522.8,549.7 L523.6,546.9 L524.5,544.0 L525.3,541.1 L526.1,538.3 L527.0,535.4 L527.8,532.5 L528.7,529.7 L529.5,526.8 L530.3,524.0 L531.2,521.1 L532.0,518.2 L532.9,515.4 L533.7,512.5 L534.5,509.6 L535.3,506.8 L536.1,503.9 L536.9,501.0 L537.7,498.1 L538.5,495.2 L539.3,492.3 L540.1,489.4 L540.8,486.5 L541.6,483.6 L542.3,480.7 L543.0,477.8 L543.7,474.8 L544.4,471.9 L545.1,469.0 L545.8,466.0 L546.5,463.1 L547.2,460.2 L547.9,457.2 L548.6,454.3 L549.3,451.3 L550.0,448.4 L550.6,445.4 L551.3,442.5 L552.0,439.6 L552.7,436.6 L553.4,433.7 L554.1,430.8 L554.8,427.8 L555.6,424.9 L556.3,422.0 L557.0,419.1 L557.8,416.2 L558.5,413.3 L559.3,410.4 L560.0,407.5 L560.8,404.6 L561.6,401.8 L562.4,398.9 L563.2,396.0 L564.0,393.2 L564.8,390.3 L565.7,387.5 L566.5,384.6 L567.3,381.8 L568.2,378.9 L569.0,376.1 L569.9,373.2 L570.7,370.4 L571.6,367.6 L572.5,364.7 L573.4,361.9 L574.2,359.1 L575.1,356.3 L576.0,353.4 L576.9,350.6 L577.8,347.8 L578.7,345.0 L579.6,342.1 L580.5,339.3 L581.5,336.5 L582.4,333.6 L583.3,330.8 L584.2,328.0 L585.1,325.1 L586.0,322.3 L587.0,319.5 L587.9,316.6 L588.8,313.8 L589.8,310.9 L590.7,308.1 L591.6,305.2 L592.5,302.4 L593.5,299.5 L594.4,296.7 L595.3,293.8 L596.2,290.9 L597.2,288.0 L598.1,285.1 L599.0,282.3 L599.9,279.4 L600.9,276.5 L601.8,273.5 L602.7,270.6 L603.6,267.7 L604.5,264.8 L605.4,261.8 L606.3,258.9 L607.2,255.9 L608.1,253.0 L609.0,250.0 L609.9,247.0 L610.8,244.1 L611.7,241.1 L612.6,238.1 L613.6,235.2 L614.6,232.4 L615.7,229.5 L616.8,226.8 L618.0,224.1 L619.3,221.5 L620.8,219.0 L622.3,216.6 L623.9,214.3 L625.7,212.1 L627.6,210.1 L629.7,208.2 L631.9,206.5 L634.3,204.9 L636.9,203.6 L639.7,202.4 L642.7,201.4 L645.8,200.6 L648.9,200.3 L652.0,200.3 L654.9,200.9 L657.5,202.1 L659.9,203.9 L662.1,206.0 L664.1,208.4 L666.0,211.0 L667.8,213.5 L669.6,216.0 L671.3,218.6 L672.9,221.2 L674.5,223.8 L676.0,226.5 L677.5,229.1 L678.9,231.8 L680.2,234.5 L681.5,237.2 L682.8,239.9 L684.0,242.6 L685.2,245.4 L686.4,248.1 L687.5,250.9 L688.6,253.7 L689.6,256.4 L690.7,259.2 L691.7,262.0 L692.7,264.8 L693.7,267.6 L694.6,270.5 L695.6,273.3 L696.5,276.1 L697.5,278.9 L698.4,281.8 L699.3,284.6 L700.2,287.5 L701.1,290.3 L702.0,293.2 L702.9,296.0 L703.7,298.9 L704.6,301.8 L705.5,304.6 L706.3,307.5 L707.1,310.4 L707.9,313.3 L708.8,316.1 L709.6,319.0 L710.4,321.9 L711.2,324.8 L711.9,327.7 L712.7,330.6 L713.5,333.5 L714.3,336.4 L715.0,339.3 L715.8,342.2 L716.5,345.2 L717.2,348.1 L718.0,351.0 L718.7,353.9 L719.4,356.8 L720.2,359.7 L720.9,362.7 L721.6,365.6 L722.3,368.5 L723.0,371.4 L723.7,374.4 L724.4,377.3 L725.1,380.2 L725.8,383.1 L726.5,386.1 L727.2,389.0 L727.8,391.9 L728.5,394.8 L729.2,397.8 L729.9,400.7 L730.6,403.6 L731.2,406.6 L731.9,409.5 L732.6,412.4 L733.3,415.3 L733.9,418.3 L734.6,421.2 L735.3,424.1 L735.9,427.0 L736.6,430.0 L737.3,432.9 L737.9,435.8 L738.6,438.7 L739.3,441.7 L740.0,444.6 L740.6,447.5 L741.3,450.4 L742.0,453.4 L742.6,456.3 L743.3,459.2 L744.0,462.1 L744.7,465.1 L745.3,468.0 L746.0,470.9 L746.7,473.8 L747.4,476.7 L748.0,479.7 L748.7,482.6 L749.4,485.5 L750.1,488.4 L750.8,491.3 L751.5,494.2 L752.2,497.2 L752.9,500.1 L753.6,503.0 L754.3,505.9 L755.0,508.8 L755.7,511.7 L756.4,514.6 L757.1,517.5 L757.8,520.4 L758.5,523.3 L759.3,526.2 L760.0,529.2 L760.7,532.1 L761.5,535.0 L762.2,537.9 L762.9,540.8 L763.7,543.7 L764.4,546.6 L765.2,549.5 L766.0,552.4 L766.7,555.2 L767.5,558.1 L768.3,561.0 L769.1,563.9 L769.8,566.8 L770.6,569.7 L771.4,572.6 L772.2,575.5 L773.1,578.4 L773.9,581.2 L774.7,584.1 L775.5,587.0 L776.4,589.9 L777.2,592.8 L778.0,595.6 L778.9,598.5 L779.8,601.4 L780.6,604.3 L781.5,607.1 L782.4,610.0 L783.3,612.9 L784.2,615.7 L785.1,618.6 L786.0,621.5 L786.9,624.3 L787.8,627.2 L788.8,630.0 L789.7,632.9 L790.7,635.7 L791.6,638.6 L792.6,641.4 L793.6,644.3 L794.6,647.1 L795.7,649.9 L796.7,652.7 L797.8,655.5 L798.9,658.3 L800.0,661.1 L801.2,663.9 L802.3,666.6 L803.5,669.4 L804.8,672.1 L806.0,674.8 L807.3,677.5 L808.7,680.2 L810.0,682.8 L811.4,685.5 L812.9,688.1 L814.4,690.7 L815.9,693.3 L817.5,695.8 L819.1,698.3 L820.8,700.8 L822.5,703.3 L824.4,705.7 L826.3,708.0 L828.5,710.1 L830.9,712.1 L833.5,713.7 L836.3,715.0 L839.2,715.5 L842.1,715.3 L845.0,714.3 L847.7,712.8 L850.1,710.9 L852.3,708.8 L854.3,706.5 L856.0,704.1 L857.7,701.5 L859.2,698.9 L860.8,696.3 L862.3,693.7 L863.7,691.1 L865.1,688.4 L866.5,685.7 L867.9,683.0 L869.2,680.3 L870.4,677.6 L871.7,674.9 L872.9,672.2 L874.1,669.4 L875.2,666.7 L876.4,663.9 L877.5,661.1 L878.5,658.3 L879.6,655.5 L880.6,652.7 L881.6,649.9 L882.6,647.1 L883.5,644.2 L884.5,641.4 L885.4,638.5 L886.3,635.7 L887.2,632.8 L888.1,629.9 L888.9,627.1 L889.8,624.2 L890.6,621.3 L891.4,618.4 L892.3,615.5 L893.1,612.7 L893.9,609.8 L894.7,606.9 L895.4,604.0 L896.2,601.1 L897.0,598.2 L897.8,595.3 L898.5,592.4 L899.3,589.5 L900.1,586.6 L900.8,583.7 L901.6,580.8 L902.3,577.9 L903.1,574.9 L903.8,572.0 L904.5,569.1 L905.2,566.2 L906.0,563.3 L906.7,560.4 L907.4,557.5 L908.1,554.6 L908.8,551.7 L909.5,548.7 L910.2,545.8 L910.9,542.9 L911.6,540.0 L912.3,537.1 L913.0,534.1 L913.6,531.2 L914.3,528.3 L915.0,525.4 L915.7,522.5 L916.3,519.5 L917.0,516.6 L917.7,513.7 L918.3,510.8 L919.0,507.8 L919.6,504.9 L920.3,502.0 L920.9,499.0 L921.5,496.1 L922.2,493.2 L922.8,490.2 L923.5,487.3 L924.1,484.4 L924.7,481.5 L925.3,478.5 L926.0,475.6 L926.6,472.6 L927.2,469.7 L927.8,466.8 L928.4,463.8 L929.0,460.9 L929.6,458.0 L930.3,455.0 L930.9,452.1 L931.5,449.2 L932.1,446.2 L932.7,443.3 L933.3,440.3 L933.9,437.4 L934.5,434.5 L935.1,431.5 L935.6,428.6 L936.2,425.6 L936.8,422.7 L937.4,419.7 L938.0,416.8 L938.6,413.9 L939.2,410.9 L939.8,408.0 L940.3,405.0 L940.9,402.1 L941.5,399.2 L942.1,396.2 L942.7,393.3 L943.3,390.3 L943.8,387.4 L944.4,384.4 L945.0,381.5 L945.6,378.5 L946.1,375.6 L946.7,372.7 L947.3,369.7 L947.9,366.8 L948.4,363.8 L949.0,360.9 L949.6,357.9 L950.2,355.0 L950.8,352.1 L951.3,349.1 L951.9,346.2 L952.5,343.2 L953.1,340.3 L953.6,337.3 L954.2,334.4 L954.8,331.5 L955.4,328.5 L956.0,325.6 L956.5,322.6 L957.1,319.7 L957.7,316.7 L958.3,313.8 L958.9,310.9 L959.5,307.9 L960.0,305.0 L960.6,302.0 L961.2,299.1 L961.8,296.2 L962.4,293.2 L963.0,290.3 L963.6,287.4 L964.2,284.4 L964.8,281.5 L965.4,278.6 L966.0,275.6 L966.6,272.7 L967.2,269.7 L967.8,266.8 L968.4,263.9 L969.0,260.9 L969.7,258.0 L970.3,255.1 L970.9,252.2 L971.5,249.2 L972.1,246.3 L972.8,243.4 L973.4,240.4 L974.0,237.5 L974.7,234.6 L975.3,231.6 L975.9,228.7 L976.6,225.8 L977.2,222.9 L977.9,219.9 L978.5,217.0 L979.2,214.1 L979.8,211.2 L980.5,208.2 L981.2,205.3 L981.8,202.4 L982.5,199.5 L983.2,196.6 L983.9,193.6 L984.6,190.7 L985.3,187.8 L986.0,184.9 L986.7,182.0 L987.4,179.0 L988.1,176.1 L988.8,173.2 L989.5,170.3 L990.2,167.4 L990.9,164.5 L991.7,161.6 L992.4,158.6 L993.2,155.7 L993.9,152.8 L994.7,149.9 L995.4,147.0 L996.2,144.1 L996.9,141.2 L997.7,138.3 L998.5,135.4 L999.3,132.5 L1000.1,129.6 L1000.9,126.7 L1001.7,123.7 L1002.5,120.8 L1003.3,117.9 L1004.1,115.1 L1005.0,112.2 L1005.9,109.3 L1006.8,106.5 L1007.8,103.6 L1008.8,100.8 L1009.9,98.0 L1011.0,95.3 L1012.2,92.5 L1013.5,89.8 L1014.8,87.2 L1016.2,84.5 L1017.7,81.9 L1019.3,79.4 L1021.0,76.9 L1022.8,74.4 L1024.7,72.0 L1026.7,69.7 L1028.9,67.4 L1031.1,65.2 L1033.4,63.2 L1035.9,61.3 L1038.4,59.8 L1040.9,58.7 L1043.4,58.1 L1046.0,57.9 L1048.6,58.4 L1051.1,59.4 L1053.6,60.8 L1056.1,62.6 L1058.4,64.6 L1060.7,66.9 L1062.9,69.3 L1064.9,71.8 L1066.9,74.3 L1068.7,76.8 L1070.4,79.4 L1072.1,82.0 L1073.6,84.6 L1075.0,87.3 L1076.4,90.0 L1077.7,92.7 L1078.9,95.5 L1080.0,98.2 L1081.1,101.0 L1082.2,103.8 L1083.2,106.7 L1084.2,109.5 L1085.1,112.3 L1086.0,115.2 L1086.9,118.0 L1087.8,120.9 L1088.7,123.7 L1089.6,126.6 L1090.4,129.5 L1091.3,132.3 L1092.1,135.2 L1093.0,138.1 L1093.8,141.0 L1094.6,143.8 L1095.4,146.7 L1096.3,149.6 L1097.1,152.5 L1097.9,155.3 L1098.7,158.2 L1099.4,161.1 L1100.2,164.0 L1101.0,166.9 L1101.8,169.8 L1102.5,172.7 L1103.3,175.6 L1104.1,178.5 L1104.8,181.3 L1105.5,184.2 L1106.3,187.1 L1107.0,190.0 L1107.7,193.0 L1108.5,195.9 L1109.2,198.8 L1109.9,201.7 L1110.6,204.6 L1111.3,207.5 L1112.0,210.4 L1112.7,213.3 L1113.4,216.2 L1114.0,219.1 L1114.7,222.1 L1115.4,225.0 L1116.1,227.9 L1116.7,230.8 L1117.4,233.7 L1118.1,236.6 L1118.7,239.6 L1119.4,242.5 L1120.0,245.4 L1120.7,248.3 L1121.3,251.3 L1121.9,254.2 L1122.6,257.1 L1123.2,260.1 L1123.8,263.0 L1124.5,265.9 L1125.1,268.9 L1125.7,271.8 L1126.3,274.7 L1126.9,277.7 L1127.6,280.6 L1128.2,283.5 L1128.8,286.5 L1129.4,289.4 L1130.0,292.3 L1130.6,295.3 L1131.2,298.2 L1131.8,301.2 L1132.4,304.1 L1133.0,307.0 L1133.6,310.0 L1134.2,312.9 L1134.8,315.9 L1135.4,318.8 L1136.0,321.7 L1136.6,324.7 L1137.2,327.6 L1137.7,330.6 L1138.3,333.5 L1138.9,336.5 L1139.5,339.4 L1140.1,342.3 L1140.7,345.3 L1141.3,348.2 L1141.9,351.2 L1142.4,354.1 L1143.0,357.1 L1143.6,360.0 L1144.2,363.0 L1144.8,365.9 L1145.4,368.9 L1146.0,371.8 L1146.6,374.7 L1147.2,377.7 L1147.7,380.6 L1148.3,383.6 L1148.9,386.5 L1149.5,389.5 L1150.1,392.4 L1150.7,395.4 L1151.3,398.3 L1151.9,401.2 L1152.5,404.2 L1153.1,407.1 L1153.7,410.1 L1154.3,413.0 L1155.0,415.9 L1155.6,418.9 L1156.2,421.8 L1156.8,424.8 L1157.4,427.7 L1158.0,430.6 L1158.7,433.6 L1159.3,436.5 L1159.9,439.5 L1160.6,442.4 L1161.2,445.3 L1161.8,448.3 L1162.5,451.2 L1163.1,454.1 L1163.8,457.1 L1164.4,460.0 L1165.1,462.9 L1165.7,465.9 L1166.4,468.8 L1167.0,471.7 L1167.7,474.6 L1168.4,477.6 L1169.1,480.5 L1169.7,483.4 L1170.4,486.3 L1171.1,489.3 L1171.8,492.2 L1172.4,495.1 L1173.1,498.0 L1173.8,500.9 L1174.5,503.9 L1175.2,506.8 L1175.9,509.7 L1176.6,512.6 L1177.3,515.5 L1178.0,518.4 L1178.7,521.3 L1179.4,524.3 L1180.1,527.2 L1180.9,530.1 L1181.6,533.0 L1182.3,535.9 L1183.0,538.8 L1183.8,541.7 L1184.5,544.6 L1185.2,547.5 L1186.0,550.4 L1186.7,553.3 L1187.4,556.2 L1188.2,559.1 L1188.9,562.0 L1189.7,564.9 L1190.4,567.7 L1191.2,570.6 L1191.9,573.5 L1192.7,576.4 L1193.5,579.3 L1194.2,582.2 L1195.0,585.1 L1195.8,587.9 L1196.5,590.8 L1197.3,593.7 L1198.1,596.6 L1198.9,599.4 L1199.6,602.3 L1200.4,605.2 L1201.2,608.0 L1202.0,610.9 L1202.8,613.7 L1203.7,616.6 L1204.5,619.4 L1205.4,622.3 L1206.3,625.1 L1207.3,627.9 L1208.3,630.8 L1209.3,633.6 L1210.3,636.4 L1211.4,639.1 L1212.6,641.9 L1213.8,644.7 L1215.0,647.4 L1216.3,650.2 L1217.7,652.9 L1219.1,655.6 L1220.6,658.3 L1222.2,660.9 L1223.8,663.6 L1225.5,666.2 L1227.3,668.8 L1229.2,671.4 L1231.1,674.0 L1233.2,676.5 L1235.3,679.0 L1237.5,681.2 L1239.7,683.2 L1242.0,685.0 L1244.4,686.4 L1246.7,687.3 L1249.2,687.8 L1251.6,687.8 L1254.1,687.2 L1256.5,686.2 L1259.0,684.8 L1261.4,683.1 L1263.7,681.1 L1266.0,678.9 L1268.2,676.6 L1270.3,674.2 L1272.2,671.7 L1274.1,669.2 L1275.9,666.7 L1277.6,664.1 L1279.2,661.5 L1280.7,658.9 L1282.2,656.2 L1283.5,653.5 L1284.8,650.8 L1286.1,648.1 L1287.3,645.4 L1288.4,642.6 L1289.5,639.8 L1290.6,637.0 L1291.6,634.2 L1292.6,631.4 L1293.6,628.6 L1294.6,625.8 L1295.5,622.9 L1296.5,620.1 L1297.4,617.3 L1298.3,614.4 L1299.2,611.6 L1300.2,608.7 L1301.1,605.9 L1301.9,603.0 L1302.8,600.2 L1303.7,597.3 L1304.6,594.4 L1305.4,591.6 L1306.3,588.7 L1307.1,585.8 L1308.0,583.0 L1308.8,580.1 L1309.6,577.2 L1310.5,574.3 L1311.3,571.4 L1312.1,568.6 L1312.9,565.7 L1313.7,562.8 L1314.5,559.9 L1315.2,557.0 L1316.0,554.1 L1316.8,551.2 L1317.6,548.3 L1318.3,545.4 L1319.1,542.5 L1319.9,539.6 L1320.6,536.7 L1321.4,533.8 L1322.1,530.9 L1322.8,528.0 L1323.6,525.1 L1324.3,522.2 L1325.0,519.3 L1325.8,516.4 L1326.5,513.5 L1327.2,510.6 L1327.9,507.6 L1328.7,504.7 L1329.4,501.8 L1330.1,498.9 L1330.8,496.0 L1331.5,493.1 L1332.2,490.1 L1332.9,487.2 L1333.6,484.3 L1334.4,481.4 L1335.1,478.5 L1335.8,475.5 L1336.5,472.6 L1337.2,469.7 L1337.9,466.8 L1338.6,463.9 L1339.3,461.0 L1340.0,458.0 L1340.7,455.1 L1341.4,452.2 L1342.1,449.3 L1342.8,446.4 L1343.6,443.4 L1344.3,440.5 L1345.0,437.6 L1345.7,434.7 L1346.4,431.8 L1347.1,428.9 L1347.9,426.0 L1348.6,423.0 L1349.3,420.1 L1350.1,417.2 L1350.8,414.3 L1351.5,411.4 L1352.3,408.5 L1353.0,405.6 L1353.8,402.7 L1354.6,399.8 L1355.3,396.9 L1356.1,394.0 L1356.8,391.1 L1357.6,388.2 L1358.4,385.3 L1359.2,382.4 L1360.0,379.5 L1360.8,376.6 L1361.6,373.7 L1362.4,370.8 L1363.2,368.0 L1364.0,365.1 L1364.8,362.2 L1365.7,359.3 L1366.5,356.4 L1367.4,353.6 L1368.2,350.7 L1369.1,347.8 L1369.9,345.0 L1370.8,342.1 L1371.7,339.2 L1372.6,336.4"/>
<path d="M196.0,294.0 L198.5,295.7 L201.0,297.4 L203.4,299.1 L205.8,300.9 L208.1,302.8 L210.4,304.7 L212.7,306.6 L214.9,308.6 L217.1,310.6 L219.2,312.6 L221.4,314.7 L223.4,316.8 L225.5,319.0 L227.5,321.2 L229.5,323.4 L231.4,325.7 L233.4,328.0 L235.3,330.3 L237.1,332.6 L239.0,335.0 L240.8,337.4 L242.6,339.8 L244.4,342.2 L246.1,344.6 L247.8,347.1 L249.5,349.6 L251.2,352.1 L252.9,354.6 L254.5,357.1 L256.2,359.7 L257.8,362.2 L259.4,364.8 L261.0,367.4 L262.6,369.9 L264.2,372.5 L265.7,375.1 L267.3,377.7 L268.8,380.3 L270.3,382.8 L271.9,385.4 L273.4,388.0 L274.9,390.6 L276.4,393.2 L277.9,395.8 L279.4,398.4 L281.0,401.0 L282.5,403.6 L284.0,406.2 L285.5,408.7 L287.0,411.3 L288.5,413.9 L290.0,416.5 L291.5,419.1 L293.0,421.6 L294.5,424.2 L296.1,426.8 L297.6,429.3 L299.1,431.9 L300.7,434.4 L302.2,437.0 L303.8,439.5 L305.4,442.0 L307.0,444.5 L308.6,447.1 L310.2,449.6 L311.8,452.1 L313.4,454.5 L315.1,457.0 L316.8,459.5 L318.5,461.9 L320.2,464.4 L321.9,466.8 L323.6,469.3 L325.4,471.7 L327.2,474.1 L329.0,476.5 L330.8,478.9 L332.6,481.2 L334.5,483.6 L336.4,485.9 L338.3,488.2 L340.3,490.6 L342.3,492.9 L344.3,495.1 L346.3,497.4 L348.3,499.7 L350.4,501.9 L352.5,504.1 L354.7,506.3 L356.9,508.5 L359.1,510.6 L361.3,512.7 L363.6,514.8 L365.9,516.8 L368.3,518.7 L370.7,520.5 L373.1,522.2 L375.6,523.8 L378.1,525.3 L380.7,526.7 L383.3,527.9 L386.0,529.0 L388.7,529.9 L391.4,530.7 L394.2,531.3 L397.1,531.7 L400.0,531.9 L402.9,531.9 L405.9,531.7 L408.9,531.3 L411.9,530.7 L414.9,530.0 L417.9,529.1 L420.8,528.0 L423.7,526.8 L426.5,525.5 L429.2,524.1 L431.9,522.5 L434.4,520.8 L436.9,519.1 L439.3,517.2 L441.7,515.3 L444.0,513.3 L446.3,511.3 L448.5,509.2 L450.7,507.1 L452.8,505.0 L454.9,502.8 L457.0,500.6 L459.1,498.5 L461.1,496.3 L463.2,494.1 L465.2,491.8 L467.2,489.6 L469.2,487.4 L471.1,485.2 L473.1,482.9 L475.1,480.7 L477.0,478.4 L478.9,476.2 L480.9,473.9 L482.8,471.6 L484.8,469.4 L486.7,467.1 L488.7,464.9 L490.6,462.6 L492.6,460.4 L494.5,458.1 L496.5,455.9 L498.5,453.6 L500.5,451.4 L502.5,449.2 L504.5,447.0 L506.5,444.7 L508.5,442.5 L510.5,440.2 L512.4,437.9 L514.4,435.7 L516.3,433.3 L518.2,431.0 L520.1,428.7 L521.9,426.3 L523.8,424.0 L525.7,421.6 L527.6,419.3 L529.5,417.0 L531.4,414.7 L533.4,412.5 L535.5,410.3 L537.7,408.2 L539.9,406.2 L542.2,404.2 L544.5,402.3 L546.9,400.5 L549.4,398.8 L552.0,397.1 L554.5,395.5 L557.2,394.0 L559.8,392.6 L562.6,391.3 L565.3,390.1 L568.1,389.0 L570.9,388.0 L573.8,387.1 L576.6,386.3 L579.5,385.6 L582.4,385.0 L585.4,384.6 L588.3,384.3 L591.2,384.1 L594.2,384.0 L597.1,384.0 L600.1,384.2 L603.0,384.5 L605.9,385.0 L608.8,385.6 L611.7,386.3 L614.6,387.2 L617.4,388.1 L620.3,389.2 L623.1,390.4 L625.8,391.7 L628.5,393.1 L631.2,394.6 L633.8,396.2 L636.4,397.8 L638.9,399.6 L641.4,401.4 L643.8,403.2 L646.2,405.1 L648.5,407.1 L650.8,409.1 L653.0,411.1 L655.1,413.2 L657.3,415.3 L659.4,417.5 L661.5,419.7 L663.5,421.8 L665.6,424.0 L667.6,426.2 L669.6,428.4 L671.6,430.7 L673.7,432.9 L675.7,435.0 L677.7,437.2 L679.8,439.4 L681.8,441.5 L683.9,443.6 L686.0,445.7 L688.2,447.7 L690.4,449.7 L692.6,451.6 L694.9,453.5 L697.2,455.3 L699.5,457.1 L701.9,458.8 L704.3,460.5 L706.8,462.2 L709.2,463.9 L711.7,465.6 L714.1,467.3 L716.6,468.9 L719.1,470.6 L721.6,472.3 L724.0,474.0 L726.5,475.8 L729.0,477.4 L731.5,479.1 L734.1,480.8 L736.7,482.4 L739.4,483.9 L742.1,485.5 L744.8,486.9 L747.6,488.3 L750.4,489.5 L753.3,490.7 L756.1,491.8 L759.0,492.8 L761.9,493.6 L764.8,494.4 L767.7,495.0 L770.6,495.4 L773.5,495.7 L776.4,495.9 L779.3,495.8 L782.1,495.7 L784.9,495.3 L787.7,494.8 L790.5,494.2 L793.3,493.4 L796.0,492.5 L798.8,491.5 L801.5,490.3 L804.2,489.1 L806.9,487.8 L809.5,486.4 L812.2,484.9 L814.8,483.3 L817.4,481.6 L820.0,479.9 L822.5,478.2 L825.1,476.4 L827.6,474.6 L830.2,472.7 L832.7,470.8 L835.1,468.9 L837.6,467.0 L840.0,465.1 L842.5,463.2 L844.9,461.4 L847.3,459.5 L849.7,457.7 L852.0,455.9 L854.4,454.1 L856.7,452.3 L859.0,450.5 L861.3,448.7 L863.6,446.9 L865.9,445.2 L868.1,443.3 L870.4,441.5 L872.6,439.7 L874.8,437.8 L877.0,435.9 L879.2,433.9 L881.4,431.9 L883.5,429.9 L885.7,427.8 L887.8,425.7 L889.9,423.5 L892.1,421.3 L894.2,419.1 L896.3,416.9 L898.5,414.6 L900.6,412.4 L902.8,410.2 L905.0,408.0 L907.2,405.9 L909.5,403.8 L911.8,401.7 L914.1,399.8 L916.4,397.8 L918.8,396.0 L921.3,394.3 L923.8,392.6 L926.3,391.1 L928.9,389.7 L931.6,388.3 L934.3,387.1 L937.0,386.0 L939.8,385.0 L942.6,384.1 L945.4,383.3 L948.2,382.6 L951.1,382.0 L954.0,381.5 L956.9,381.1 L959.8,380.8 L962.8,380.7 L965.7,380.6 L968.6,380.6 L971.6,380.8 L974.5,381.0 L977.4,381.4 L980.4,381.8 L983.3,382.4 L986.2,383.0 L989.0,383.8 L991.9,384.6 L994.7,385.6 L997.5,386.7 L1000.3,387.8 L1003.0,389.1 L1005.7,390.5 L1008.3,392.0 L1010.9,393.5 L1013.5,395.2 L1016.1,396.9 L1018.6,398.7 L1021.1,400.5 L1023.5,402.4 L1026.0,404.3 L1028.4,406.2 L1030.8,408.2 L1033.2,410.1 L1035.5,412.1 L1037.9,414.1 L1040.2,416.0 L1042.5,418.0 L1044.8,419.9 L1047.1,421.8 L1049.4,423.7 L1051.6,425.6 L1053.8,427.5 L1056.0,429.4 L1058.1,431.3 L1060.2,433.3 L1062.3,435.3 L1064.3,437.3 L1066.4,439.3 L1068.4,441.3 L1070.5,443.4 L1072.6,445.4 L1074.8,447.4 L1077.0,449.4 L1079.2,451.4 L1081.6,453.4 L1084.0,455.3 L1086.4,457.2 L1088.9,459.1 L1091.5,460.9 L1094.1,462.7 L1096.7,464.4 L1099.4,466.0 L1102.1,467.6 L1104.9,469.0 L1107.7,470.5 L1110.5,471.8 L1113.3,473.0 L1116.2,474.1 L1119.0,475.2 L1121.9,476.1 L1124.8,476.9 L1127.7,477.5 L1130.5,478.1 L1133.4,478.5 L1136.3,478.7 L1139.2,478.8 L1142.0,478.8 L1144.8,478.6 L1147.6,478.3 L1150.4,477.7 L1153.2,477.1 L1155.9,476.2 L1158.6,475.3 L1161.3,474.2 L1164.0,472.9 L1166.6,471.6 L1169.2,470.1 L1171.8,468.6 L1174.3,466.9 L1176.8,465.2 L1179.3,463.4 L1181.7,461.5 L1184.1,459.5 L1186.5,457.5 L1188.8,455.5 L1191.1,453.4 L1193.4,451.3 L1195.6,449.1 L1197.8,446.9 L1200.0,444.8 L1202.1,442.6 L1204.2,440.3 L1206.2,438.1 L1208.2,435.9 L1210.2,433.6 L1212.2,431.3 L1214.1,429.1 L1216.0,426.8 L1217.9,424.5 L1219.8,422.1 L1221.6,419.8 L1223.4,417.5 L1225.2,415.1 L1227.0,412.8 L1228.7,410.4 L1230.5,408.0 L1232.2,405.6 L1233.9,403.2 L1235.6,400.8 L1237.3,398.4 L1239.0,396.0 L1240.7,393.6 L1242.3,391.2 L1244.0,388.7 L1245.6,386.3 L1247.3,383.8 L1249.0,381.4 L1250.6,378.9 L1252.3,376.4 L1253.9,374.0 L1255.6,371.5 L1257.3,369.0 L1258.9,366.5 L1260.6,364.1 L1262.3,361.6 L1264.0,359.1 L1265.8,356.6 L1267.5,354.1 L1269.2,351.6 L1271.0,349.1 L1272.8,346.6 L1274.6,344.1 L1276.4,341.7 L1278.3,339.2 L1280.1,336.8 L1282.0,334.3 L1283.9,331.9 L1285.9,329.5 L1287.8,327.2 L1289.8,324.9 L1291.9,322.6 L1293.9,320.4 L1296.0,318.2 L1298.2,316.0 L1300.3,313.9 L1302.5,311.9 L1304.7,309.9 L1307.0,308.0 L1309.3,306.2 L1311.7,304.4 L1314.1,302.7 L1316.5,301.0 L1319.0,299.5 L1321.5,298.0 L1324.1,296.6 L1326.7,295.4 L1329.4,294.2 L1332.1,293.1 L1334.9,292.1 L1337.8,291.2 L1340.6,290.4 L1343.6,289.8 L1346.5,289.3 L1349.5,289.0 L1352.5,288.8 L1355.5,288.9 L1358.4,289.2 L1361.4,289.8 L1364.3,290.6 L1367.1,291.7 L1369.9,293.1 L1372.6,294.8"/>
<path d="M196.0,352.5 L198.6,350.9 L201.2,349.4 L203.8,347.9 L206.5,346.4 L209.1,345.0 L211.8,343.6 L214.5,342.3 L217.2,341.0 L219.9,339.7 L222.6,338.4 L225.4,337.2 L228.1,336.1 L230.9,334.9 L233.6,333.8 L236.4,332.7 L239.2,331.7 L242.0,330.7 L244.8,329.7 L247.7,328.7 L250.5,327.8 L253.4,326.9 L256.2,326.0 L259.1,325.2 L262.0,324.4 L264.8,323.6 L267.7,322.8 L270.6,322.1 L273.5,321.4 L276.4,320.7 L279.4,320.0 L282.3,319.4 L285.2,318.7 L288.1,318.1 L291.1,317.5 L294.0,317.0 L297.0,316.5 L299.9,315.9 L302.9,315.4 L305.8,315.0 L308.8,314.5 L311.8,314.0 L314.7,313.6 L317.7,313.2 L320.7,312.8 L323.6,312.4 L326.6,312.1 L329.6,311.7 L332.6,311.4 L335.5,311.0 L338.5,310.7 L341.5,310.4 L344.5,310.1 L347.4,309.8 L350.4,309.5 L353.4,309.2 L356.4,309.0 L359.3,308.7 L362.3,308.4 L365.3,308.2 L368.3,307.9 L371.3,307.6 L374.2,307.3 L377.2,307.1 L380.2,306.8 L383.2,306.5 L386.2,306.2 L389.1,306.0 L392.1,305.7 L395.1,305.3 L398.1,305.0 L401.1,304.7 L404.0,304.4 L407.0,304.0 L410.0,303.7 L413.0,303.3 L416.0,302.9 L418.9,302.5 L421.9,302.1 L424.9,301.6 L427.9,301.2 L430.9,300.7 L433.8,300.2 L436.8,299.7 L439.8,299.1 L442.8,298.6 L445.7,298.1 L448.7,297.5 L451.7,297.0 L454.6,296.5 L457.6,296.1 L460.6,295.7 L463.5,295.3 L466.5,295.0 L469.4,294.8 L472.4,294.6 L475.3,294.5 L478.3,294.5 L481.2,294.6 L484.2,294.8 L487.1,295.1 L490.0,295.6 L493.0,296.1 L495.9,296.8 L498.8,297.6 L501.7,298.5 L504.5,299.4 L507.4,300.5 L510.2,301.6 L513.0,302.8 L515.8,304.1 L518.5,305.4 L521.2,306.8 L523.9,308.2 L526.5,309.6 L529.1,311.1 L531.7,312.7 L534.3,314.3 L536.8,315.9 L539.2,317.6 L541.7,319.3 L544.1,321.1 L546.5,322.8 L548.9,324.7 L551.2,326.5 L553.5,328.4 L555.8,330.4 L558.0,332.3 L560.3,334.3 L562.5,336.4 L564.6,338.4 L566.8,340.5 L568.9,342.6 L571.0,344.8 L573.1,346.9 L575.2,349.1 L577.2,351.3 L579.2,353.6 L581.2,355.8 L583.2,358.1 L585.1,360.4 L587.0,362.7 L589.0,365.0 L590.8,367.4 L592.7,369.7 L594.6,372.1 L596.4,374.5 L598.2,376.9 L600.0,379.3 L601.8,381.7 L603.6,384.1 L605.3,386.5 L607.0,389.0 L608.8,391.4 L610.5,393.9 L612.2,396.4 L613.8,398.9 L615.5,401.4 L617.2,403.9 L618.8,406.4 L620.4,408.9 L622.1,411.4 L623.7,413.9 L625.3,416.5 L626.8,419.0 L628.4,421.6 L630.0,424.1 L631.6,426.7 L633.1,429.2 L634.7,431.8 L636.2,434.4 L637.7,436.9 L639.3,439.5 L640.8,442.1 L642.3,444.7 L643.8,447.3 L645.3,449.8 L646.8,452.4 L648.3,455.0 L649.8,457.6 L651.3,460.2 L652.8,462.8 L654.3,465.4 L655.8,468.0 L657.3,470.6 L658.8,473.1 L660.3,475.7 L661.8,478.3 L663.3,480.9 L664.8,483.5 L666.3,486.1 L667.8,488.6 L669.3,491.2 L670.8,493.8 L672.3,496.4 L673.8,498.9 L675.3,501.5 L676.8,504.1 L678.3,506.6 L679.8,509.2 L681.3,511.8 L682.9,514.3 L684.4,516.9 L685.9,519.5 L687.5,522.0 L689.0,524.6 L690.6,527.1 L692.1,529.7 L693.7,532.3 L695.2,534.8 L696.8,537.4 L698.4,539.9 L700.0,542.5 L701.5,545.0 L703.1,547.6 L704.7,550.2 L706.3,552.7 L708.0,555.3 L709.6,557.8 L711.2,560.4 L712.8,562.9 L714.5,565.5 L716.2,568.0 L717.8,570.5 L719.5,573.1 L721.2,575.6 L723.0,578.0 L724.7,580.5 L726.5,583.0 L728.3,585.4 L730.2,587.8 L732.0,590.1 L733.9,592.4 L735.9,594.7 L737.8,597.0 L739.9,599.2 L741.9,601.3 L744.0,603.5 L746.1,605.5 L748.3,607.6 L750.6,609.5 L752.8,611.4 L755.2,613.3 L757.6,615.1 L760.0,616.8 L762.5,618.5 L765.1,620.1 L767.7,621.6 L770.3,623.0 L773.1,624.3 L775.8,625.5 L778.6,626.6 L781.4,627.6 L784.3,628.4 L787.2,629.1 L790.1,629.6 L793.1,630.0 L796.1,630.2 L799.1,630.2 L802.1,630.1 L805.1,629.8 L808.1,629.3 L811.0,628.7 L813.9,628.0 L816.7,627.1 L819.5,626.0 L822.2,624.9 L824.9,623.6 L827.5,622.2 L830.0,620.7 L832.5,619.1 L835.0,617.4 L837.4,615.7 L839.7,613.8 L842.0,611.9 L844.3,609.9 L846.6,607.9 L848.8,605.8 L851.0,603.6 L853.1,601.5 L855.3,599.3 L857.4,597.1 L859.5,594.8 L861.5,592.6 L863.6,590.4 L865.7,588.1 L867.7,585.9 L869.7,583.6 L871.7,581.4 L873.7,579.1 L875.7,576.8 L877.6,574.6 L879.6,572.3 L881.5,570.0 L883.4,567.7 L885.3,565.4 L887.2,563.1 L889.1,560.8 L891.0,558.4 L892.9,556.1 L894.7,553.8 L896.5,551.4 L898.4,549.1 L900.2,546.7 L902.0,544.4 L903.8,542.0 L905.6,539.6 L907.4,537.2 L909.2,534.8 L910.9,532.4 L912.7,530.0 L914.5,527.6 L916.2,525.2 L917.9,522.7 L919.7,520.3 L921.4,517.9 L923.2,515.5 L924.9,513.0 L926.7,510.6 L928.4,508.2 L930.2,505.8 L932.0,503.3 L933.7,500.9 L935.5,498.5 L937.3,496.1 L939.1,493.8 L940.9,491.4 L942.8,489.0 L944.6,486.7 L946.5,484.4 L948.4,482.1 L950.3,479.8 L952.2,477.5 L954.2,475.3 L956.2,473.0 L958.2,470.8 L960.2,468.7 L962.3,466.5 L964.4,464.4 L966.5,462.3 L968.6,460.2 L970.8,458.2 L973.1,456.2 L975.3,454.2 L977.6,452.3 L980.0,450.3 L982.3,448.5 L984.8,446.6 L987.2,444.9 L989.7,443.1 L992.2,441.4 L994.8,439.8 L997.4,438.2 L1000.0,436.6 L1002.7,435.1 L1005.4,433.7 L1008.1,432.3 L1010.8,431.0 L1013.6,429.7 L1016.4,428.6 L1019.2,427.5 L1022.0,426.4 L1024.8,425.4 L1027.7,424.6 L1030.5,423.8 L1033.4,423.0 L1036.3,422.4 L1039.2,421.8 L1042.1,421.4 L1045.0,421.0 L1047.9,420.7 L1050.8,420.5 L1053.7,420.4 L1056.6,420.5 L1059.5,420.6 L1062.3,420.8 L1065.2,421.1 L1068.1,421.5 L1071.0,422.0 L1073.9,422.6 L1076.7,423.2 L1079.6,424.0 L1082.5,424.7 L1085.4,425.5 L1088.2,426.4 L1091.1,427.3 L1094.0,428.3 L1096.9,429.2 L1099.7,430.2 L1102.6,431.2 L1105.5,432.3 L1108.4,433.3 L1111.3,434.3 L1114.2,435.3 L1117.2,436.3 L1120.1,437.2 L1123.0,438.2 L1125.9,439.1 L1128.9,440.0 L1131.8,440.9 L1134.8,441.7 L1137.7,442.5 L1140.7,443.3 L1143.6,444.1 L1146.6,444.8 L1149.6,445.5 L1152.5,446.1 L1155.5,446.7 L1158.5,447.3 L1161.4,447.8 L1164.4,448.3 L1167.3,448.7 L1170.3,449.1 L1173.3,449.4 L1176.2,449.7 L1179.2,450.0 L1182.1,450.1 L1185.0,450.2 L1188.0,450.3 L1190.9,450.3 L1193.8,450.2 L1196.7,450.1 L1199.6,449.9 L1202.5,449.7 L1205.4,449.4 L1208.3,449.0 L1211.1,448.5 L1214.0,448.0 L1216.8,447.3 L1219.6,446.7 L1222.5,445.9 L1225.3,445.0 L1228.1,444.1 L1230.8,443.1 L1233.6,442.0 L1236.3,440.8 L1239.1,439.5 L1241.8,438.2 L1244.5,436.8 L1247.2,435.3 L1249.8,433.7 L1252.5,432.1 L1255.1,430.5 L1257.8,428.8 L1260.4,427.1 L1263.0,425.3 L1265.5,423.6 L1268.1,421.8 L1270.7,420.1 L1273.2,418.4 L1275.7,416.7 L1278.2,415.0 L1280.7,413.3 L1283.2,411.6 L1285.7,410.0 L1288.2,408.4 L1290.7,406.8 L1293.1,405.2 L1295.6,403.6 L1298.0,402.0 L1300.5,400.4 L1302.9,398.8 L1305.3,397.2 L1307.8,395.5 L1310.2,393.9 L1312.7,392.2 L1315.1,390.6 L1317.6,388.9 L1320.0,387.2 L1322.5,385.4 L1324.9,383.7 L1327.4,382.0 L1329.8,380.2 L1332.3,378.5 L1334.8,376.7 L1337.3,375.0 L1339.8,373.3 L1342.2,371.5 L1344.7,369.8 L1347.2,368.1 L1349.7,366.4 L1352.3,364.7 L1354.8,363.1 L1357.3,361.4 L1359.8,359.8 L1362.4,358.3 L1364.9,356.7 L1367.5,355.2 L1370.0,353.7 L1372.6,352.2"/>
<path d="M196.0,368.1 L198.0,366.0 L200.0,364.0 L202.1,361.9 L204.2,359.8 L206.4,357.7 L208.6,355.6 L210.8,353.5 L213.1,351.5 L215.5,349.5 L217.9,347.6 L220.3,345.7 L222.8,343.9 L225.3,342.2 L227.9,340.6 L230.5,339.0 L233.2,337.6 L235.9,336.3 L238.6,335.2 L241.5,334.1 L244.3,333.3 L247.2,332.6 L250.2,332.0 L253.1,331.5 L256.1,331.3 L259.1,331.1 L262.2,331.1 L265.2,331.2 L268.2,331.4 L271.2,331.7 L274.2,332.2 L277.2,332.7 L280.1,333.4 L283.0,334.1 L285.9,335.0 L288.7,335.9 L291.4,336.9 L294.1,338.1 L296.8,339.3 L299.4,340.5 L302.0,341.9 L304.5,343.3 L307.0,344.9 L309.4,346.4 L311.8,348.1 L314.2,349.8 L316.5,351.6 L318.8,353.4 L321.0,355.3 L323.2,357.3 L325.4,359.3 L327.6,361.3 L329.7,363.4 L331.8,365.6 L333.8,367.8 L335.9,370.0 L337.9,372.3 L339.8,374.6 L341.8,376.9 L343.7,379.3 L345.6,381.7 L347.5,384.1 L349.4,386.6 L351.2,389.1 L353.1,391.6 L354.9,394.1 L356.7,396.6 L358.5,399.1 L360.3,401.6 L362.0,404.2 L363.8,406.7 L365.5,409.3 L367.3,411.8 L369.0,414.3 L370.8,416.9 L372.5,419.4 L374.2,421.9 L375.9,424.4 L377.7,426.9 L379.4,429.3 L381.1,431.8 L382.9,434.2 L384.6,436.6 L386.3,439.0 L388.1,441.3 L389.9,443.7 L391.6,446.0 L393.4,448.3 L395.2,450.6 L397.0,452.8 L398.9,455.1 L400.7,457.3 L402.6,459.5 L404.5,461.8 L406.4,463.9 L408.3,466.1 L410.3,468.3 L412.3,470.4 L414.3,472.6 L416.4,474.7 L418.4,476.8 L420.5,478.9 L422.7,481.0 L424.9,483.0 L427.1,485.1 L429.3,487.2 L431.6,489.2 L434.0,491.2 L436.3,493.2 L438.7,495.1 L441.1,497.1 L443.6,498.9 L446.1,500.7 L448.7,502.5 L451.2,504.2 L453.8,505.8 L456.5,507.4 L459.1,508.9 L461.8,510.3 L464.6,511.6 L467.3,512.8 L470.1,514.0 L472.9,515.0 L475.8,515.9 L478.7,516.7 L481.6,517.4 L484.5,517.9 L487.5,518.4 L490.4,518.7 L493.4,518.9 L496.4,519.0 L499.4,519.0 L502.3,518.9 L505.3,518.6 L508.3,518.3 L511.2,517.8 L514.1,517.2 L517.0,516.5 L519.9,515.8 L522.7,514.9 L525.5,513.9 L528.3,512.8 L531.0,511.5 L533.7,510.2 L536.3,508.8 L538.8,507.3 L541.3,505.7 L543.8,504.0 L546.2,502.3 L548.6,500.5 L551.0,498.6 L553.3,496.7 L555.6,494.7 L557.9,492.7 L560.1,490.7 L562.4,488.6 L564.6,486.6 L566.9,484.5 L569.2,482.5 L571.4,480.4 L573.7,478.4 L576.0,476.5 L578.3,474.5 L580.6,472.6 L583.0,470.8 L585.4,469.0 L587.8,467.3 L590.3,465.6 L592.7,463.9 L595.2,462.3 L597.7,460.7 L600.3,459.2 L602.8,457.7 L605.4,456.2 L608.0,454.7 L610.6,453.3 L613.2,451.9 L615.8,450.5 L618.4,449.0 L621.1,447.7 L623.7,446.3 L626.4,444.9 L629.0,443.5 L631.7,442.1 L634.4,440.7 L637.0,439.3 L639.7,437.9 L642.4,436.5 L645.1,435.2 L647.8,433.8 L650.6,432.6 L653.3,431.3 L656.1,430.1 L658.9,429.0 L661.7,427.9 L664.6,426.9 L667.5,425.9 L670.4,425.0 L673.3,424.2 L676.2,423.4 L679.2,422.7 L682.1,422.1 L685.1,421.6 L688.1,421.2 L691.0,420.9 L694.0,420.6 L697.0,420.4 L699.9,420.4 L702.9,420.4 L705.8,420.5 L708.8,420.7 L711.7,420.9 L714.7,421.3 L717.6,421.6 L720.5,422.1 L723.4,422.6 L726.4,423.2 L729.3,423.8 L732.2,424.4 L735.1,425.1 L738.1,425.9 L741.0,426.6 L743.9,427.4 L746.8,428.2 L749.7,429.1 L752.6,429.9 L755.6,430.8 L758.5,431.6 L761.4,432.5 L764.3,433.3 L767.2,434.2 L770.2,435.1 L773.1,435.9 L776.0,436.7 L778.9,437.5 L781.9,438.2 L784.8,439.0 L787.7,439.7 L790.7,440.3 L793.6,440.9 L796.6,441.5 L799.6,442.0 L802.5,442.4 L805.5,442.8 L808.5,443.1 L811.4,443.4 L814.4,443.6 L817.4,443.7 L820.4,443.7 L823.4,443.7 L826.4,443.7 L829.3,443.5 L832.3,443.4 L835.3,443.1 L838.3,442.8 L841.2,442.4 L844.2,442.0 L847.1,441.5 L850.1,441.0 L853.0,440.4 L855.9,439.7 L858.8,439.0 L861.7,438.2 L864.6,437.4 L867.4,436.6 L870.3,435.6 L873.1,434.6 L875.9,433.6 L878.6,432.5 L881.4,431.4 L884.1,430.2 L886.9,429.0 L889.5,427.7 L892.2,426.3 L894.8,425.0 L897.5,423.6 L900.1,422.1 L902.7,420.6 L905.2,419.1 L907.8,417.5 L910.4,416.0 L912.9,414.4 L915.4,412.7 L917.9,411.1 L920.5,409.4 L923.0,407.8 L925.5,406.1 L928.0,404.4 L930.4,402.7 L932.9,401.0 L935.4,399.3 L937.9,397.6 L940.4,395.9 L942.9,394.2 L945.4,392.5 L948.0,390.8 L950.5,389.1 L953.0,387.5 L955.6,385.9 L958.1,384.3 L960.7,382.7 L963.3,381.1 L965.9,379.6 L968.5,378.1 L971.1,376.7 L973.8,375.3 L976.5,373.9 L979.2,372.5 L981.9,371.2 L984.7,370.0 L987.4,368.8 L990.2,367.7 L993.0,366.6 L995.9,365.6 L998.7,364.7 L1001.6,363.8 L1004.5,363.1 L1007.4,362.4 L1010.3,361.8 L1013.2,361.3 L1016.1,360.8 L1019.1,360.5 L1022.0,360.3 L1025.0,360.2 L1028.0,360.3 L1030.9,360.4 L1033.9,360.6 L1036.9,361.0 L1039.9,361.4 L1042.8,361.9 L1045.8,362.6 L1048.7,363.3 L1051.6,364.1 L1054.5,365.0 L1057.4,366.0 L1060.2,367.1 L1063.0,368.2 L1065.8,369.4 L1068.5,370.7 L1071.2,372.1 L1073.9,373.5 L1076.5,375.0 L1079.1,376.5 L1081.6,378.1 L1084.1,379.7 L1086.5,381.4 L1088.9,383.2 L1091.3,384.9 L1093.6,386.8 L1095.9,388.6 L1098.2,390.5 L1100.5,392.5 L1102.7,394.4 L1104.9,396.4 L1107.1,398.4 L1109.3,400.4 L1111.5,402.5 L1113.7,404.6 L1115.8,406.6 L1118.0,408.7 L1120.1,410.8 L1122.3,412.9 L1124.4,415.0 L1126.6,417.1 L1128.8,419.2 L1130.9,421.3 L1133.1,423.4 L1135.3,425.5 L1137.5,427.6 L1139.7,429.6 L1142.0,431.7 L1144.2,433.7 L1146.5,435.7 L1148.7,437.7 L1151.0,439.7 L1153.3,441.6 L1155.7,443.5 L1158.0,445.4 L1160.4,447.3 L1162.8,449.1 L1165.2,450.9 L1167.6,452.7 L1170.1,454.4 L1172.5,456.1 L1175.0,457.8 L1177.6,459.4 L1180.1,461.0 L1182.7,462.5 L1185.3,464.0 L1188.0,465.5 L1190.7,466.9 L1193.4,468.2 L1196.1,469.5 L1198.9,470.7 L1201.7,471.9 L1204.5,473.0 L1207.3,474.0 L1210.1,474.9 L1213.0,475.7 L1215.9,476.5 L1218.7,477.1 L1221.6,477.7 L1224.5,478.1 L1227.4,478.5 L1230.3,478.7 L1233.2,478.8 L1236.0,478.7 L1238.9,478.6 L1241.8,478.3 L1244.6,477.8 L1247.4,477.2 L1250.2,476.4 L1253.0,475.5 L1255.8,474.5 L1258.5,473.3 L1261.3,472.0 L1263.9,470.5 L1266.6,469.0 L1269.2,467.4 L1271.8,465.7 L1274.4,463.9 L1276.9,462.0 L1279.4,460.1 L1281.9,458.1 L1284.3,456.2 L1286.7,454.1 L1289.1,452.1 L1291.4,450.1 L1293.6,448.0 L1295.8,446.0 L1298.0,443.9 L1300.2,441.8 L1302.4,439.7 L1304.5,437.6 L1306.6,435.5 L1308.7,433.4 L1310.7,431.3 L1312.8,429.2 L1314.8,427.0 L1316.9,424.9 L1318.9,422.7 L1320.9,420.6 L1322.9,418.4 L1325.0,416.3 L1327.0,414.1 L1329.1,412.0 L1331.1,409.8 L1333.2,407.7 L1335.2,405.5 L1337.3,403.3 L1339.3,401.1 L1341.4,399.0 L1343.5,396.8 L1345.6,394.6 L1347.6,392.5 L1349.7,390.3 L1351.8,388.1 L1353.9,385.9 L1356.0,383.8 L1358.0,381.6 L1360.1,379.4 L1362.2,377.3 L1364.3,375.1 L1366.4,372.9 L1368.5,370.8 L1370.5,368.6 L1372.6,366.4"/>
<path d="M196.0,362.5 L198.9,363.0 L201.8,363.6 L204.7,364.3 L207.6,365.1 L210.4,366.0 L213.3,367.0 L216.1,368.0 L218.8,369.1 L221.6,370.2 L224.3,371.5 L227.0,372.7 L229.7,374.1 L232.3,375.5 L234.9,377.0 L237.5,378.5 L240.1,380.0 L242.7,381.6 L245.2,383.3 L247.7,385.0 L250.1,386.7 L252.6,388.4 L255.0,390.2 L257.4,392.0 L259.8,393.9 L262.1,395.8 L264.4,397.7 L266.7,399.6 L269.0,401.6 L271.2,403.6 L273.5,405.6 L275.7,407.6 L277.9,409.7 L280.0,411.7 L282.1,413.8 L284.3,416.0 L286.3,418.1 L288.4,420.2 L290.5,422.4 L292.5,424.6 L294.5,426.8 L296.5,429.0 L298.5,431.2 L300.5,433.4 L302.5,435.6 L304.5,437.8 L306.6,440.0 L308.6,442.2 L310.6,444.4 L312.6,446.6 L314.6,448.8 L316.7,450.9 L318.8,453.0 L320.9,455.2 L323.0,457.3 L325.1,459.3 L327.3,461.4 L329.5,463.4 L331.7,465.4 L334.0,467.4 L336.3,469.3 L338.6,471.2 L341.0,473.1 L343.4,475.0 L345.8,476.8 L348.2,478.5 L350.7,480.2 L353.2,481.9 L355.8,483.6 L358.3,485.2 L360.9,486.7 L363.5,488.2 L366.2,489.7 L368.9,491.1 L371.6,492.5 L374.3,493.8 L377.1,495.0 L379.8,496.2 L382.6,497.4 L385.5,498.5 L388.3,499.5 L391.2,500.5 L394.1,501.4 L397.0,502.3 L399.9,503.1 L402.8,503.8 L405.8,504.4 L408.7,505.0 L411.7,505.5 L414.7,505.9 L417.6,506.3 L420.6,506.6 L423.6,506.8 L426.5,506.9 L429.5,506.9 L432.4,506.9 L435.4,506.7 L438.3,506.5 L441.2,506.2 L444.1,505.8 L447.0,505.3 L449.9,504.7 L452.8,504.0 L455.6,503.2 L458.4,502.3 L461.2,501.3 L464.0,500.3 L466.7,499.2 L469.5,498.0 L472.2,496.7 L474.9,495.3 L477.5,493.9 L480.2,492.4 L482.8,490.9 L485.4,489.4 L488.0,487.8 L490.6,486.1 L493.1,484.4 L495.6,482.7 L498.1,481.0 L500.6,479.2 L503.1,477.4 L505.5,475.6 L507.9,473.8 L510.3,472.0 L512.7,470.1 L515.1,468.3 L517.5,466.4 L519.8,464.5 L522.1,462.6 L524.4,460.7 L526.8,458.8 L529.1,456.9 L531.4,455.0 L533.6,453.0 L535.9,451.1 L538.2,449.2 L540.5,447.2 L542.8,445.3 L545.0,443.4 L547.3,441.4 L549.6,439.5 L551.9,437.6 L554.2,435.6 L556.4,433.7 L558.7,431.8 L561.0,429.9 L563.3,428.0 L565.7,426.1 L568.0,424.2 L570.3,422.3 L572.6,420.4 L575.0,418.6 L577.3,416.7 L579.7,414.9 L582.0,413.0 L584.4,411.2 L586.8,409.4 L589.2,407.5 L591.6,405.7 L594.0,403.9 L596.4,402.1 L598.8,400.3 L601.2,398.6 L603.6,396.8 L606.1,395.1 L608.5,393.3 L611.0,391.6 L613.4,389.9 L615.9,388.2 L618.4,386.5 L620.9,384.8 L623.4,383.1 L625.9,381.4 L628.4,379.8 L631.0,378.2 L633.5,376.5 L636.1,374.9 L638.6,373.3 L641.2,371.8 L643.8,370.2 L646.4,368.7 L649.0,367.2 L651.7,365.8 L654.3,364.4 L657.0,363.0 L659.6,361.7 L662.3,360.4 L665.0,359.1 L667.8,357.9 L670.5,356.8 L673.3,355.7 L676.1,354.7 L678.9,353.7 L681.7,352.8 L684.5,351.9 L687.4,351.1 L690.3,350.4 L693.1,349.7 L696.1,349.0 L699.0,348.4 L701.9,347.9 L704.8,347.3 L707.8,346.9 L710.8,346.5 L713.7,346.1 L716.7,345.7 L719.7,345.4 L722.7,345.2 L725.7,344.9 L728.7,344.7 L731.7,344.6 L734.7,344.5 L737.7,344.4 L740.7,344.3 L743.8,344.2 L746.8,344.2 L749.8,344.2 L752.8,344.3 L755.8,344.3 L758.8,344.4 L761.9,344.5 L764.9,344.7 L767.9,344.9 L770.9,345.1 L773.9,345.3 L776.9,345.5 L779.9,345.8 L782.9,346.1 L785.9,346.5 L788.9,346.8 L791.8,347.2 L794.8,347.7 L797.8,348.1 L800.8,348.6 L803.7,349.1 L806.7,349.7 L809.6,350.2 L812.6,350.8 L815.5,351.5 L818.4,352.1 L821.3,352.8 L824.2,353.5 L827.1,354.3 L830.0,355.1 L832.9,355.9 L835.8,356.7 L838.6,357.6 L841.5,358.5 L844.3,359.5 L847.2,360.4 L850.0,361.4 L852.8,362.4 L855.6,363.5 L858.4,364.6 L861.2,365.7 L863.9,366.8 L866.7,368.0 L869.4,369.2 L872.2,370.4 L874.9,371.7 L877.6,372.9 L880.3,374.2 L883.0,375.5 L885.7,376.9 L888.3,378.2 L891.0,379.6 L893.6,381.0 L896.3,382.5 L898.9,383.9 L901.5,385.4 L904.1,386.9 L906.7,388.4 L909.3,389.9 L911.8,391.5 L914.4,393.1 L916.9,394.6 L919.5,396.2 L922.0,397.9 L924.5,399.5 L927.0,401.1 L929.5,402.8 L931.9,404.5 L934.4,406.2 L936.8,407.9 L939.3,409.6 L941.7,411.3 L944.1,413.1 L946.5,414.8 L948.9,416.6 L951.3,418.4 L953.7,420.2 L956.1,422.0 L958.4,423.8 L960.8,425.6 L963.1,427.4 L965.5,429.3 L967.8,431.1 L970.1,433.0 L972.5,434.8 L974.8,436.7 L977.1,438.6 L979.5,440.5 L981.8,442.4 L984.1,444.3 L986.4,446.2 L988.8,448.1 L991.1,450.0 L993.4,451.9 L995.7,453.8 L998.1,455.7 L1000.4,457.7 L1002.7,459.6 L1005.1,461.5 L1007.4,463.4 L1009.8,465.4 L1012.2,467.3 L1014.5,469.2 L1016.9,471.1 L1019.3,473.0 L1021.7,474.8 L1024.1,476.7 L1026.5,478.5 L1029.0,480.3 L1031.4,482.1 L1033.9,483.8 L1036.4,485.6 L1038.9,487.3 L1041.4,488.9 L1043.9,490.5 L1046.5,492.1 L1049.0,493.7 L1051.6,495.2 L1054.2,496.6 L1056.8,498.0 L1059.5,499.4 L1062.2,500.7 L1064.9,501.9 L1067.6,503.1 L1070.3,504.2 L1073.1,505.3 L1075.9,506.3 L1078.7,507.3 L1081.6,508.1 L1084.4,508.9 L1087.3,509.7 L1090.3,510.3 L1093.2,510.9 L1096.1,511.4 L1099.1,511.9 L1102.1,512.2 L1105.0,512.5 L1108.0,512.7 L1111.0,512.8 L1114.0,512.8 L1116.9,512.8 L1119.9,512.6 L1122.8,512.4 L1125.8,512.1 L1128.7,511.6 L1131.6,511.1 L1134.5,510.5 L1137.4,509.8 L1140.2,509.0 L1143.0,508.2 L1145.8,507.2 L1148.6,506.1 L1151.4,505.0 L1154.1,503.8 L1156.8,502.6 L1159.5,501.2 L1162.2,499.8 L1164.8,498.4 L1167.4,496.8 L1170.0,495.3 L1172.6,493.7 L1175.2,492.0 L1177.7,490.3 L1180.2,488.5 L1182.7,486.8 L1185.2,484.9 L1187.6,483.1 L1190.1,481.2 L1192.5,479.3 L1194.9,477.4 L1197.2,475.5 L1199.6,473.5 L1201.9,471.6 L1204.2,469.6 L1206.5,467.7 L1208.8,465.7 L1211.0,463.7 L1213.3,461.8 L1215.5,459.8 L1217.7,457.8 L1219.9,455.8 L1222.0,453.8 L1224.2,451.8 L1226.4,449.8 L1228.5,447.8 L1230.7,445.8 L1232.8,443.8 L1234.9,441.8 L1237.1,439.8 L1239.2,437.7 L1241.3,435.7 L1243.5,433.6 L1245.6,431.6 L1247.7,429.5 L1249.9,427.4 L1252.0,425.4 L1254.1,423.3 L1256.3,421.2 L1258.5,419.1 L1260.6,417.0 L1262.8,414.9 L1265.0,412.8 L1267.2,410.7 L1269.4,408.6 L1271.7,406.5 L1273.9,404.4 L1276.2,402.3 L1278.5,400.3 L1280.7,398.3 L1283.1,396.3 L1285.4,394.3 L1287.7,392.4 L1290.1,390.5 L1292.5,388.6 L1294.9,386.8 L1297.3,385.0 L1299.7,383.3 L1302.2,381.6 L1304.7,379.9 L1307.2,378.3 L1309.7,376.8 L1312.2,375.3 L1314.8,373.9 L1317.4,372.6 L1320.0,371.3 L1322.7,370.1 L1325.4,368.9 L1328.1,367.9 L1330.8,366.9 L1333.6,366.0 L1336.4,365.2 L1339.2,364.4 L1342.1,363.8 L1345.0,363.2 L1347.9,362.8 L1350.9,362.4 L1353.9,362.2 L1356.9,362.0 L1360.0,362.0 L1363.1,362.1 L1366.2,362.3 L1369.4,362.6 L1372.6,363.0"/>
<path d="M196.0,595.0 L199.2,595.2 L202.2,595.1 L205.1,594.7 L207.9,594.0 L210.6,593.0 L213.2,591.8 L215.7,590.3 L218.1,588.7 L220.4,586.9 L222.6,584.9 L224.8,582.8 L226.9,580.6 L229.0,578.3 L231.0,576.0 L232.9,573.6 L234.8,571.2 L236.7,568.8 L238.5,566.4 L240.3,563.9 L242.1,561.5 L243.8,559.0 L245.5,556.5 L247.1,554.0 L248.8,551.5 L250.4,548.9 L251.9,546.4 L253.5,543.8 L255.0,541.2 L256.5,538.6 L258.0,536.0 L259.4,533.4 L260.8,530.8 L262.3,528.1 L263.6,525.5 L265.0,522.8 L266.4,520.2 L267.8,517.5 L269.1,514.8 L270.4,512.2 L271.8,509.5 L273.1,506.8 L274.4,504.1 L275.7,501.4 L277.0,498.7 L278.3,496.0 L279.6,493.3 L280.9,490.7 L282.2,488.0 L283.5,485.3 L284.8,482.6 L286.2,479.9 L287.5,477.2 L288.8,474.5 L290.2,471.9 L291.6,469.2 L292.9,466.5 L294.3,463.9 L295.7,461.2 L297.1,458.6 L298.5,455.9 L300.0,453.3 L301.4,450.6 L302.8,448.0 L304.3,445.4 L305.7,442.7 L307.2,440.1 L308.6,437.5 L310.1,434.8 L311.6,432.2 L313.0,429.6 L314.5,427.0 L316.0,424.4 L317.4,421.7 L318.9,419.1 L320.3,416.5 L321.8,413.9 L323.3,411.2 L324.7,408.6 L326.2,406.0 L327.6,403.4 L329.0,400.7 L330.5,398.1 L331.9,395.5 L333.3,392.8 L334.7,390.2 L336.1,387.5 L337.5,384.9 L338.9,382.3 L340.3,379.6 L341.8,377.0 L343.2,374.4 L344.7,371.9 L346.3,369.3 L347.8,366.8 L349.5,364.3 L351.2,361.9 L353.0,359.5 L354.9,357.1 L356.9,354.8 L358.9,352.6 L361.1,350.4 L363.3,348.4 L365.7,346.4 L368.1,344.5 L370.7,342.7 L373.3,341.1 L376.0,339.6 L378.8,338.4 L381.6,337.3 L384.5,336.5 L387.4,335.9 L390.3,335.6 L393.2,335.6 L396.1,335.9 L398.9,336.5 L401.8,337.3 L404.6,338.4 L407.3,339.6 L410.0,341.0 L412.6,342.5 L415.1,344.1 L417.5,345.8 L419.9,347.6 L422.2,349.4 L424.4,351.4 L426.5,353.4 L428.7,355.5 L430.7,357.7 L432.7,359.9 L434.7,362.2 L436.6,364.6 L438.4,366.9 L440.2,369.4 L442.0,371.8 L443.8,374.3 L445.5,376.8 L447.2,379.4 L448.9,381.9 L450.6,384.5 L452.2,387.0 L453.9,389.6 L455.5,392.1 L457.1,394.7 L458.7,397.3 L460.3,399.8 L461.9,402.4 L463.5,404.9 L465.0,407.5 L466.6,410.0 L468.1,412.6 L469.7,415.1 L471.2,417.7 L472.8,420.2 L474.3,422.8 L475.8,425.3 L477.3,427.9 L478.8,430.5 L480.3,433.0 L481.8,435.6 L483.2,438.2 L484.7,440.8 L486.2,443.3 L487.7,445.9 L489.1,448.5 L490.6,451.1 L492.0,453.7 L493.5,456.3 L494.9,458.9 L496.4,461.6 L497.9,464.2 L499.3,466.8 L500.8,469.4 L502.3,472.0 L503.8,474.5 L505.3,477.1 L506.9,479.7 L508.5,482.2 L510.1,484.8 L511.7,487.3 L513.3,489.8 L515.0,492.3 L516.7,494.8 L518.5,497.2 L520.3,499.6 L522.1,502.0 L524.0,504.4 L525.9,506.7 L527.9,509.0 L529.9,511.3 L532.0,513.5 L534.1,515.7 L536.3,517.8 L538.6,519.8 L541.0,521.7 L543.4,523.5 L545.9,525.2 L548.6,526.8 L551.3,528.3 L554.1,529.6 L557.0,530.7 L559.9,531.7 L562.9,532.4 L565.8,532.9 L568.7,533.1 L571.5,533.0 L574.3,532.6 L576.9,532.0 L579.6,531.1 L582.1,530.0 L584.6,528.6 L587.0,527.1 L589.3,525.4 L591.6,523.5 L593.8,521.5 L595.9,519.3 L598.0,517.0 L600.1,514.7 L602.0,512.2 L603.9,509.7 L605.8,507.2 L607.6,504.6 L609.4,502.0 L611.1,499.5 L612.7,496.9 L614.3,494.3 L615.9,491.6 L617.4,489.0 L618.8,486.4 L620.3,483.7 L621.7,481.1 L623.0,478.4 L624.3,475.7 L625.6,473.1 L626.9,470.4 L628.1,467.7 L629.4,465.0 L630.5,462.3 L631.7,459.6 L632.9,456.9 L634.0,454.1 L635.1,451.4 L636.2,448.7 L637.3,445.9 L638.4,443.2 L639.5,440.4 L640.6,437.7 L641.7,434.9 L642.8,432.1 L643.8,429.4 L644.9,426.6 L646.0,423.8 L647.1,421.0 L648.2,418.2 L649.3,415.5 L650.4,412.7 L651.5,409.9 L652.6,407.1 L653.6,404.3 L654.7,401.5 L655.8,398.7 L656.9,395.9 L658.0,393.1 L659.1,390.3 L660.2,387.4 L661.3,384.6 L662.4,381.8 L663.5,379.0 L664.6,376.2 L665.8,373.4 L666.9,370.6 L668.0,367.8 L669.1,365.0 L670.2,362.1 L671.3,359.3 L672.4,356.5 L673.5,353.7 L674.6,350.9 L675.8,348.1 L676.9,345.3 L678.0,342.5 L679.1,339.7 L680.2,336.9 L681.4,334.1 L682.5,331.3 L683.6,328.6 L684.7,325.8 L685.9,323.0 L687.0,320.2 L688.1,317.5 L689.2,314.7 L690.4,311.9 L691.5,309.2 L692.6,306.4 L693.8,303.7 L694.9,300.9 L696.1,298.2 L697.2,295.5 L698.4,292.7 L699.5,290.0 L700.7,287.3 L701.9,284.6 L703.1,281.9 L704.3,279.2 L705.6,276.5 L706.8,273.8 L708.1,271.2 L709.4,268.5 L710.7,265.9 L712.1,263.2 L713.4,260.6 L714.8,257.9 L716.3,255.3 L717.7,252.7 L719.2,250.1 L720.7,247.5 L722.3,244.9 L723.8,242.4 L725.5,239.8 L727.1,237.2 L728.8,234.7 L730.6,232.2 L732.3,229.6 L734.2,227.1 L736.0,224.6 L737.9,222.1 L739.9,219.7 L741.9,217.2 L743.9,214.9 L746.1,212.6 L748.2,210.4 L750.5,208.3 L752.7,206.4 L755.1,204.7 L757.5,203.2 L760.0,201.9 L762.5,200.9 L765.2,200.1 L767.9,199.6 L770.6,199.5 L773.5,199.6 L776.3,200.1 L779.2,200.9 L782.1,202.0 L784.9,203.3 L787.5,204.8 L790.1,206.6 L792.5,208.5 L794.7,210.7 L796.7,212.9 L798.7,215.2 L800.6,217.7 L802.4,220.1 L804.1,222.6 L805.8,225.1 L807.5,227.6 L809.1,230.1 L810.6,232.7 L812.2,235.3 L813.7,237.9 L815.1,240.5 L816.6,243.1 L818.0,245.8 L819.4,248.4 L820.7,251.1 L822.1,253.8 L823.4,256.4 L824.8,259.1 L826.0,261.8 L827.3,264.5 L828.6,267.2 L829.8,269.9 L831.1,272.7 L832.3,275.4 L833.5,278.1 L834.7,280.9 L835.8,283.6 L837.0,286.4 L838.1,289.2 L839.2,291.9 L840.3,294.7 L841.4,297.5 L842.5,300.3 L843.6,303.1 L844.7,305.9 L845.7,308.7 L846.8,311.5 L847.8,314.3 L848.8,317.1 L849.8,319.9 L850.8,322.7 L851.8,325.5 L852.8,328.4 L853.8,331.2 L854.8,334.0 L855.8,336.9 L856.7,339.7 L857.7,342.6 L858.6,345.4 L859.6,348.3 L860.5,351.1 L861.5,354.0 L862.4,356.8 L863.4,359.7 L864.3,362.5 L865.2,365.4 L866.1,368.2 L867.1,371.1 L868.0,373.9 L868.9,376.8 L869.9,379.7 L870.8,382.5 L871.7,385.4 L872.7,388.2 L873.6,391.1 L874.5,393.9 L875.5,396.8 L876.4,399.6 L877.3,402.5 L878.3,405.3 L879.2,408.2 L880.2,411.0 L881.1,413.9 L882.1,416.7 L883.0,419.6 L884.0,422.4 L884.9,425.3 L885.9,428.1 L886.8,430.9 L887.8,433.8 L888.8,436.6 L889.7,439.5 L890.7,442.3 L891.6,445.1 L892.6,448.0 L893.6,450.8 L894.5,453.6 L895.5,456.5 L896.5,459.3 L897.4,462.1 L898.4,465.0 L899.4,467.8 L900.3,470.6 L901.3,473.5 L902.3,476.3 L903.3,479.1 L904.2,481.9 L905.2,484.8 L906.2,487.6 L907.2,490.4 L908.1,493.2 L909.1,496.1 L910.1,498.9 L911.1,501.7 L912.1,504.5 L913.1,507.3 L914.1,510.1 L915.1,513.0 L916.1,515.8 L917.1,518.6 L918.2,521.4 L919.2,524.2 L920.3,527.0 L921.4,529.7 L922.5,532.5 L923.6,535.3 L924.7,538.1 L925.9,540.8 L927.0,543.6 L928.2,546.4 L929.5,549.1 L930.7,551.9 L932.0,554.6 L933.2,557.3 L934.6,560.0 L935.9,562.8 L937.3,565.5 L938.7,568.2 L940.1,570.9 L941.6,573.5 L943.1,576.2 L944.6,578.8 L946.2,581.4 L947.9,583.9 L949.7,586.4 L951.5,588.8 L953.5,591.2 L955.5,593.4 L957.7,595.5 L960.0,597.6 L962.4,599.5 L964.9,601.2 L967.5,602.8 L970.2,604.1 L973.0,605.3 L975.8,606.1 L978.7,606.7 L981.5,606.9 L984.4,606.7 L987.3,606.2 L990.1,605.4 L992.9,604.3 L995.6,602.9 L998.3,601.3 L1000.8,599.6 L1003.2,597.6 L1005.5,595.6 L1007.7,593.5 L1009.8,591.2 L1011.7,588.9 L1013.6,586.5 L1015.4,584.1 L1017.2,581.6 L1018.8,579.0 L1020.5,576.5 L1022.1,573.9 L1023.6,571.3 L1025.1,568.7 L1026.6,566.1 L1028.0,563.5 L1029.4,560.8 L1030.8,558.2 L1032.2,555.5 L1033.5,552.8 L1034.8,550.1 L1036.0,547.4 L1037.3,544.7 L1038.5,542.0 L1039.7,539.3 L1040.9,536.5 L1042.0,533.8 L1043.2,531.0 L1044.3,528.3 L1045.5,525.5 L1046.6,522.7 L1047.7,520.0 L1048.8,517.2 L1049.9,514.4 L1051.0,511.6 L1052.1,508.8 L1053.2,506.1 L1054.3,503.3 L1055.4,500.5 L1056.5,497.7 L1057.6,494.9 L1058.8,492.1 L1059.9,489.4 L1061.0,486.6 L1062.2,483.8 L1063.3,481.0 L1064.5,478.2 L1065.6,475.5 L1066.8,472.7 L1067.9,469.9 L1069.1,467.1 L1070.3,464.4 L1071.4,461.6 L1072.6,458.8 L1073.8,456.0 L1075.0,453.3 L1076.2,450.5 L1077.4,447.7 L1078.5,445.0 L1079.7,442.2 L1080.9,439.5 L1082.1,436.7 L1083.3,433.9 L1084.5,431.2 L1085.7,428.4 L1086.9,425.7 L1088.1,422.9 L1089.3,420.2 L1090.5,417.4 L1091.7,414.7 L1092.8,411.9 L1094.0,409.2 L1095.2,406.4 L1096.4,403.7 L1097.6,401.0 L1098.8,398.2 L1100.0,395.5 L1101.1,392.7 L1102.3,390.0 L1103.5,387.3 L1104.6,384.6 L1105.8,381.8 L1107.0,379.1 L1108.2,376.4 L1109.3,373.7 L1110.5,371.0 L1111.7,368.2 L1112.9,365.5 L1114.1,362.8 L1115.3,360.1 L1116.6,357.4 L1117.8,354.7 L1119.1,352.0 L1120.4,349.3 L1121.7,346.6 L1123.0,343.9 L1124.3,341.3 L1125.7,338.6 L1127.1,335.9 L1128.5,333.2 L1130.0,330.6 L1131.5,327.9 L1133.0,325.2 L1134.5,322.6 L1136.1,319.9 L1137.7,317.3 L1139.4,314.6 L1141.1,312.0 L1142.9,309.5 L1144.7,307.0 L1146.6,304.5 L1148.6,302.2 L1150.6,299.9 L1152.7,297.8 L1154.9,295.8 L1157.3,293.9 L1159.7,292.2 L1162.2,290.6 L1164.8,289.3 L1167.6,288.1 L1170.4,287.3 L1173.2,286.8 L1176.0,286.6 L1178.9,286.8 L1181.7,287.2 L1184.6,287.9 L1187.4,288.9 L1190.1,290.0 L1192.9,291.3 L1195.5,292.8 L1198.1,294.4 L1200.6,296.1 L1203.0,297.9 L1205.3,299.8 L1207.5,301.8 L1209.6,303.8 L1211.7,305.9 L1213.7,308.1 L1215.6,310.3 L1217.4,312.6 L1219.2,315.0 L1220.9,317.4 L1222.6,319.9 L1224.2,322.4 L1225.7,324.9 L1227.2,327.5 L1228.7,330.1 L1230.1,332.8 L1231.5,335.5 L1232.8,338.2 L1234.2,340.9 L1235.5,343.7 L1236.7,346.5 L1238.0,349.3 L1239.2,352.0 L1240.5,354.8 L1241.7,357.6 L1242.9,360.4 L1244.1,363.2 L1245.3,366.0 L1246.5,368.8 L1247.7,371.6 L1248.9,374.4 L1250.1,377.2 L1251.3,380.0 L1252.4,382.8 L1253.6,385.6 L1254.8,388.4 L1255.9,391.2 L1257.1,394.0 L1258.2,396.7 L1259.4,399.5 L1260.5,402.3 L1261.6,405.1 L1262.8,407.9 L1263.9,410.7 L1265.1,413.5 L1266.2,416.3 L1267.3,419.1 L1268.5,421.8 L1269.6,424.6 L1270.7,427.4 L1271.9,430.2 L1273.0,433.0 L1274.1,435.7 L1275.3,438.5 L1276.4,441.3 L1277.6,444.0 L1278.7,446.8 L1279.9,449.6 L1281.0,452.3 L1282.2,455.1 L1283.3,457.8 L1284.5,460.6 L1285.7,463.3 L1286.9,466.1 L1288.0,468.8 L1289.2,471.6 L1290.4,474.3 L1291.6,477.0 L1292.8,479.7 L1294.0,482.5 L1295.2,485.2 L1296.5,487.9 L1297.7,490.6 L1298.9,493.3 L1300.2,496.0 L1301.4,498.7 L1302.7,501.4 L1304.0,504.1 L1305.3,506.8 L1306.6,509.5 L1307.9,512.2 L1309.2,514.8 L1310.5,517.5 L1311.9,520.2 L1313.2,522.8 L1314.6,525.5 L1315.9,528.1 L1317.3,530.8 L1318.7,533.4 L1320.1,536.0 L1321.6,538.7 L1323.0,541.3 L1324.5,543.9 L1325.9,546.5 L1327.4,549.1 L1328.9,551.7 L1330.4,554.3 L1332.0,556.9 L1333.5,559.4 L1335.1,562.0 L1336.7,564.6 L1338.3,567.1 L1339.9,569.6 L1341.6,572.1 L1343.4,574.5 L1345.2,576.9 L1347.1,579.2 L1349.1,581.3 L1351.3,583.4 L1353.5,585.3 L1356.0,587.0 L1358.5,588.6 L1361.3,590.0 L1364.0,591.4 L1366.9,592.6 L1369.8,593.7 L1372.6,594.8"/>
<path d="M196.0,477.5 L197.2,479.9 L198.5,482.3 L199.9,484.7 L201.3,487.2 L202.9,489.6 L204.5,492.1 L206.3,494.6 L208.1,497.1 L209.9,499.5 L211.9,502.0 L213.9,504.4 L216.0,506.7 L218.2,509.1 L220.4,511.4 L222.7,513.6 L225.0,515.8 L227.4,517.9 L229.8,519.9 L232.3,521.9 L234.8,523.7 L237.4,525.5 L240.0,527.2 L242.6,528.7 L245.3,530.2 L248.0,531.5 L250.7,532.7 L253.5,533.7 L256.2,534.6 L259.0,535.4 L261.8,535.9 L264.6,536.4 L267.5,536.6 L270.3,536.7 L273.1,536.6 L275.9,536.3 L278.8,535.8 L281.6,535.1 L284.4,534.3 L287.2,533.4 L289.9,532.3 L292.7,531.0 L295.4,529.7 L298.1,528.2 L300.7,526.6 L303.3,525.0 L305.8,523.3 L308.3,521.5 L310.8,519.6 L313.2,517.7 L315.5,515.7 L317.8,513.7 L320.0,511.7 L322.2,509.6 L324.3,507.5 L326.4,505.3 L328.5,503.2 L330.5,500.9 L332.5,498.7 L334.5,496.4 L336.4,494.1 L338.3,491.8 L340.2,489.5 L342.1,487.2 L344.0,484.8 L345.8,482.4 L347.6,480.1 L349.5,477.7 L351.3,475.3 L353.1,472.9 L354.9,470.5 L356.7,468.2 L358.5,465.8 L360.3,463.4 L362.1,461.0 L364.0,458.6 L365.8,456.3 L367.6,453.9 L369.4,451.5 L371.2,449.2 L373.1,446.8 L374.9,444.5 L376.8,442.1 L378.6,439.8 L380.5,437.4 L382.4,435.1 L384.3,432.8 L386.2,430.5 L388.1,428.2 L390.0,425.9 L392.0,423.6 L393.9,421.4 L395.9,419.1 L397.9,416.9 L399.9,414.7 L402.0,412.5 L404.0,410.3 L406.1,408.1 L408.3,405.9 L410.4,403.8 L412.6,401.6 L414.7,399.5 L417.0,397.4 L419.2,395.4 L421.5,393.4 L423.8,391.5 L426.2,389.7 L428.6,387.9 L431.1,386.2 L433.6,384.7 L436.2,383.2 L438.8,381.8 L441.5,380.6 L444.2,379.5 L447.0,378.5 L449.9,377.7 L452.8,377.0 L455.7,376.4 L458.7,376.0 L461.7,375.8 L464.7,375.7 L467.8,375.7 L470.8,375.9 L473.8,376.2 L476.8,376.6 L479.7,377.2 L482.7,378.0 L485.5,378.8 L488.4,379.8 L491.1,380.9 L493.8,382.2 L496.5,383.5 L499.1,385.0 L501.7,386.5 L504.3,388.1 L506.8,389.8 L509.2,391.5 L511.7,393.3 L514.1,395.1 L516.4,397.0 L518.7,398.9 L521.0,400.9 L523.3,402.8 L525.5,404.8 L527.8,406.8 L530.0,408.7 L532.1,410.8 L534.3,412.8 L536.5,414.8 L538.6,416.8 L540.7,418.9 L542.9,421.0 L545.0,423.0 L547.1,425.1 L549.3,427.2 L551.4,429.3 L553.5,431.4 L555.7,433.5 L557.9,435.6 L560.0,437.7 L562.2,439.7 L564.5,441.8 L566.7,443.9 L569.0,445.9 L571.2,447.9 L573.5,449.9 L575.9,451.8 L578.2,453.8 L580.6,455.6 L583.0,457.4 L585.5,459.2 L588.0,460.9 L590.5,462.5 L593.1,464.1 L595.7,465.6 L598.3,467.0 L601.0,468.4 L603.7,469.6 L606.5,470.8 L609.3,471.9 L612.2,472.8 L615.1,473.7 L618.0,474.4 L620.9,475.0 L623.9,475.4 L626.8,475.7 L629.8,475.8 L632.7,475.7 L635.7,475.4 L638.6,475.0 L641.5,474.4 L644.3,473.7 L647.2,472.8 L650.0,471.8 L652.8,470.7 L655.5,469.5 L658.2,468.2 L660.8,466.8 L663.4,465.3 L666.0,463.7 L668.5,462.1 L671.0,460.4 L673.4,458.6 L675.8,456.7 L678.2,454.8 L680.5,452.8 L682.8,450.8 L685.1,448.7 L687.3,446.6 L689.5,444.5 L691.6,442.3 L693.8,440.1 L695.9,437.8 L698.0,435.6 L700.0,433.3 L702.0,431.0 L704.0,428.7 L706.0,426.4 L707.9,424.1 L709.9,421.8 L711.8,419.5 L713.6,417.3 L715.5,415.0 L717.3,412.7 L719.2,410.4 L721.0,408.1 L722.8,405.8 L724.6,403.5 L726.4,401.1 L728.1,398.8 L729.9,396.5 L731.7,394.2 L733.4,391.8 L735.1,389.4 L736.9,387.1 L738.6,384.7 L740.4,382.3 L742.1,379.9 L743.8,377.5 L745.6,375.1 L747.3,372.6 L749.1,370.2 L750.8,367.7 L752.6,365.2 L754.4,362.7 L756.2,360.2 L758.0,357.7 L759.8,355.2 L761.6,352.7 L763.5,350.2 L765.4,347.8 L767.3,345.3 L769.2,342.9 L771.2,340.6 L773.2,338.2 L775.2,335.9 L777.2,333.7 L779.3,331.5 L781.5,329.4 L783.6,327.3 L785.9,325.3 L788.1,323.4 L790.4,321.5 L792.8,319.8 L795.2,318.1 L797.7,316.5 L800.2,315.0 L802.8,313.7 L805.4,312.4 L808.1,311.2 L810.9,310.2 L813.7,309.3 L816.6,308.5 L819.5,307.8 L822.4,307.4 L825.4,307.1 L828.3,307.0 L831.3,307.1 L834.2,307.4 L837.1,307.9 L840.0,308.6 L842.8,309.5 L845.6,310.5 L848.4,311.7 L851.1,313.0 L853.8,314.4 L856.4,316.0 L858.9,317.6 L861.4,319.4 L863.8,321.2 L866.2,323.1 L868.6,325.1 L870.9,327.1 L873.2,329.1 L875.4,331.2 L877.5,333.4 L879.7,335.5 L881.7,337.7 L883.8,339.9 L885.8,342.2 L887.8,344.4 L889.7,346.7 L891.6,349.0 L893.5,351.4 L895.3,353.7 L897.1,356.1 L898.9,358.5 L900.6,360.9 L902.3,363.4 L904.0,365.8 L905.7,368.3 L907.3,370.8 L909.0,373.3 L910.6,375.8 L912.2,378.4 L913.7,380.9 L915.3,383.5 L916.8,386.0 L918.3,388.6 L919.9,391.2 L921.4,393.8 L922.9,396.4 L924.3,399.0 L925.8,401.6 L927.3,404.2 L928.8,406.8 L930.2,409.4 L931.7,412.0 L933.2,414.6 L934.6,417.2 L936.1,419.8 L937.6,422.4 L939.0,425.0 L940.5,427.6 L942.0,430.2 L943.5,432.8 L945.0,435.4 L946.5,438.0 L948.1,440.5 L949.6,443.1 L951.2,445.6 L952.8,448.2 L954.4,450.7 L956.0,453.2 L957.6,455.7 L959.3,458.1 L961.0,460.6 L962.7,463.0 L964.4,465.5 L966.1,467.9 L967.9,470.3 L969.6,472.7 L971.4,475.1 L973.3,477.5 L975.1,479.9 L977.0,482.2 L978.9,484.5 L980.8,486.9 L982.7,489.2 L984.7,491.5 L986.7,493.8 L988.7,496.1 L990.7,498.3 L992.8,500.6 L994.9,502.8 L997.0,505.0 L999.2,507.1 L1001.4,509.2 L1003.7,511.3 L1006.0,513.3 L1008.4,515.2 L1010.8,517.1 L1013.3,518.9 L1015.9,520.6 L1018.5,522.2 L1021.2,523.7 L1023.9,525.1 L1026.7,526.3 L1029.4,527.3 L1032.2,528.1 L1035.1,528.6 L1037.9,529.0 L1040.8,529.0 L1043.6,528.9 L1046.5,528.5 L1049.3,527.9 L1052.1,527.2 L1054.9,526.2 L1057.6,525.1 L1060.2,523.8 L1062.8,522.3 L1065.4,520.8 L1067.8,519.0 L1070.2,517.2 L1072.6,515.3 L1074.8,513.3 L1077.1,511.2 L1079.2,509.0 L1081.4,506.8 L1083.5,504.6 L1085.6,502.4 L1087.6,500.1 L1089.7,497.9 L1091.7,495.6 L1093.6,493.3 L1095.6,491.0 L1097.5,488.7 L1099.5,486.3 L1101.4,484.0 L1103.2,481.6 L1105.1,479.3 L1106.9,476.9 L1108.7,474.5 L1110.5,472.1 L1112.3,469.6 L1114.1,467.2 L1115.8,464.8 L1117.5,462.3 L1119.2,459.9 L1120.9,457.4 L1122.6,454.9 L1124.3,452.4 L1125.9,449.9 L1127.6,447.4 L1129.2,444.9 L1130.8,442.4 L1132.4,439.9 L1134.0,437.4 L1135.6,434.8 L1137.2,432.3 L1138.7,429.8 L1140.3,427.2 L1141.9,424.7 L1143.4,422.1 L1144.9,419.5 L1146.5,417.0 L1148.0,414.4 L1149.5,411.8 L1151.1,409.3 L1152.6,406.7 L1154.1,404.1 L1155.6,401.6 L1157.1,399.0 L1158.6,396.4 L1160.2,393.9 L1161.7,391.3 L1163.2,388.7 L1164.8,386.2 L1166.4,383.7 L1168.0,381.2 L1169.6,378.7 L1171.3,376.2 L1172.9,373.8 L1174.7,371.3 L1176.4,368.9 L1178.2,366.6 L1180.1,364.2 L1182.0,361.9 L1183.9,359.6 L1185.9,357.4 L1188.0,355.2 L1190.1,353.0 L1192.2,350.9 L1194.5,348.8 L1196.8,346.8 L1199.2,344.8 L1201.6,342.9 L1204.2,341.0 L1206.8,339.2 L1209.4,337.5 L1212.1,335.9 L1214.8,334.4 L1217.6,333.0 L1220.4,331.8 L1223.2,330.7 L1226.1,329.7 L1228.9,329.0 L1231.7,328.4 L1234.6,328.0 L1237.4,327.8 L1240.2,327.9 L1242.9,328.1 L1245.7,328.6 L1248.4,329.3 L1251.1,330.1 L1253.8,331.1 L1256.4,332.3 L1259.0,333.6 L1261.6,335.1 L1264.1,336.6 L1266.6,338.4 L1269.1,340.2 L1271.5,342.1 L1273.9,344.1 L1276.2,346.2 L1278.5,348.3 L1280.8,350.5 L1283.0,352.7 L1285.2,355.0 L1287.3,357.3 L1289.4,359.6 L1291.4,361.9 L1293.4,364.3 L1295.4,366.6 L1297.3,369.0 L1299.1,371.3 L1301.0,373.7 L1302.8,376.1 L1304.6,378.5 L1306.3,380.9 L1308.1,383.3 L1309.8,385.7 L1311.5,388.1 L1313.1,390.5 L1314.8,393.0 L1316.5,395.4 L1318.1,397.9 L1319.8,400.3 L1321.4,402.8 L1323.0,405.2 L1324.7,407.7 L1326.3,410.2 L1328.0,412.7 L1329.6,415.2 L1331.3,417.7 L1333.0,420.1 L1334.6,422.6 L1336.3,425.1 L1338.0,427.7 L1339.7,430.2 L1341.3,432.7 L1343.0,435.2 L1344.7,437.7 L1346.4,440.2 L1348.0,442.7 L1349.7,445.2 L1351.4,447.8 L1353.0,450.3 L1354.7,452.8 L1356.3,455.3 L1358.0,457.8 L1359.6,460.3 L1361.3,462.9 L1362.9,465.4 L1364.6,467.9 L1366.2,470.4 L1367.8,472.9 L1369.4,475.4 L1371.0,477.9 L1372.6,480.4"/>
<path d="M196.0,639.0 L197.4,641.7 L198.7,644.4 L200.0,647.1 L201.4,649.8 L202.7,652.5 L204.0,655.2 L205.4,657.9 L206.7,660.6 L208.0,663.3 L209.4,666.0 L210.7,668.7 L212.0,671.4 L213.3,674.1 L214.7,676.8 L216.0,679.4 L217.3,682.1 L218.7,684.8 L220.0,687.4 L221.4,690.1 L222.7,692.7 L224.1,695.4 L225.4,698.0 L226.8,700.7 L228.2,703.3 L229.6,706.0 L231.0,708.6 L232.4,711.2 L233.8,713.8 L235.2,716.5 L236.6,719.1 L238.1,721.7 L239.5,724.3 L241.0,726.9 L242.4,729.5 L243.9,732.1 L245.4,734.7 L247.0,737.2 L248.5,739.8 L250.0,742.4 L251.6,744.9 L253.2,747.5 L254.8,750.0 L256.4,752.6 L258.0,755.1 L259.7,757.7 L261.4,760.2 L263.0,762.7 L264.8,765.2 L266.5,767.8 L268.2,770.3 L270.0,772.7 L271.8,775.2 L273.7,777.6 L275.5,780.0 L277.4,782.4 L279.4,784.7 L281.4,787.0 L283.4,789.2 L285.5,791.4 L287.6,793.5 L289.8,795.5 L292.1,797.5 L294.4,799.4 L296.7,801.2 L299.2,802.9 L301.6,804.5 L304.2,806.0 L306.8,807.3 L309.6,808.6 L312.3,809.8 L315.2,810.8 L318.1,811.6 L321.1,812.1 L324.1,812.3 L327.1,812.2 L330.1,811.8 L333.2,811.1 L336.1,810.1 L339.0,809.0 L341.8,807.7 L344.4,806.2 L346.9,804.7 L349.4,803.0 L351.7,801.2 L353.9,799.3 L356.0,797.3 L358.0,795.3 L360.0,793.1 L361.8,790.8 L363.6,788.5 L365.4,786.1 L367.0,783.7 L368.6,781.2 L370.2,778.6 L371.7,776.0 L373.1,773.4 L374.6,770.7 L376.0,768.0 L377.3,765.3 L378.7,762.6 L380.0,759.9 L381.3,757.1 L382.6,754.4 L383.9,751.6 L385.2,748.9 L386.5,746.2 L387.7,743.4 L389.0,740.6 L390.2,737.9 L391.5,735.1 L392.7,732.4 L393.9,729.6 L395.1,726.8 L396.3,724.0 L397.5,721.3 L398.7,718.5 L399.8,715.7 L401.0,712.9 L402.1,710.1 L403.3,707.4 L404.4,704.6 L405.5,701.8 L406.6,699.0 L407.7,696.2 L408.8,693.4 L409.9,690.6 L411.0,687.8 L412.1,685.0 L413.1,682.2 L414.2,679.4 L415.2,676.5 L416.3,673.7 L417.3,670.9 L418.3,668.1 L419.3,665.3 L420.3,662.4 L421.4,659.6 L422.4,656.8 L423.3,654.0 L424.3,651.1 L425.3,648.3 L426.3,645.5 L427.2,642.6 L428.2,639.8 L429.2,637.0 L430.1,634.1 L431.0,631.3 L432.0,628.4 L432.9,625.6 L433.8,622.7 L434.8,619.9 L435.7,617.0 L436.6,614.2 L437.5,611.3 L438.4,608.5 L439.3,605.6 L440.2,602.8 L441.1,599.9 L442.0,597.1 L442.9,594.2 L443.7,591.3 L444.6,588.5 L445.5,585.6 L446.3,582.8 L447.2,579.9 L448.1,577.0 L448.9,574.2 L449.8,571.3 L450.6,568.4 L451.5,565.5 L452.3,562.7 L453.2,559.8 L454.0,556.9 L454.9,554.1 L455.7,551.2 L456.5,548.3 L457.4,545.4 L458.2,542.6 L459.0,539.7 L459.8,536.8 L460.7,533.9 L461.5,531.1 L462.3,528.2 L463.2,525.3 L464.0,522.4 L464.8,519.5 L465.6,516.7 L466.4,513.8 L467.3,510.9 L468.1,508.0 L468.9,505.2 L469.7,502.3 L470.5,499.4 L471.4,496.5 L472.2,493.6 L473.0,490.8 L473.8,487.9 L474.7,485.0 L475.5,482.1 L476.3,479.2 L477.1,476.4 L478.0,473.5 L478.8,470.6 L479.6,467.7 L480.5,464.8 L481.3,462.0 L482.1,459.1 L483.0,456.2 L483.8,453.3 L484.7,450.5 L485.5,447.6 L486.4,444.7 L487.2,441.8 L488.1,439.0 L488.9,436.1 L489.8,433.2 L490.6,430.3 L491.5,427.5 L492.4,424.6 L493.3,421.7 L494.1,418.9 L495.0,416.0 L495.9,413.1 L496.8,410.2 L497.7,407.4 L498.6,404.5 L499.5,401.7 L500.4,398.8 L501.3,395.9 L502.2,393.1 L503.1,390.2 L504.0,387.3 L504.9,384.5 L505.8,381.6 L506.7,378.8 L507.7,375.9 L508.6,373.1 L509.5,370.2 L510.5,367.4 L511.4,364.5 L512.4,361.7 L513.3,358.8 L514.3,356.0 L515.2,353.1 L516.2,350.3 L517.2,347.4 L518.1,344.6 L519.1,341.7 L520.1,338.9 L521.1,336.1 L522.0,333.2 L523.0,330.4 L524.0,327.5 L525.0,324.7 L526.0,321.9 L527.0,319.0 L528.0,316.2 L529.0,313.4 L530.1,310.6 L531.1,307.7 L532.1,304.9 L533.1,302.1 L534.2,299.3 L535.2,296.5 L536.3,293.7 L537.4,290.9 L538.5,288.1 L539.6,285.3 L540.7,282.5 L541.8,279.7 L543.0,277.0 L544.1,274.2 L545.3,271.5 L546.5,268.8 L547.8,266.0 L549.0,263.4 L550.3,260.7 L551.6,258.0 L553.0,255.3 L554.3,252.7 L555.7,250.1 L557.2,247.5 L558.7,244.9 L560.2,242.4 L561.7,239.8 L563.3,237.3 L564.9,234.8 L566.6,232.3 L568.3,229.9 L570.0,227.5 L571.8,225.1 L573.6,222.7 L575.5,220.4 L577.4,218.0 L579.4,215.8 L581.4,213.5 L583.5,211.3 L585.6,209.0 L587.8,206.9 L590.0,204.7 L592.3,202.6 L594.6,200.5 L597.0,198.5 L599.5,196.6 L602.0,194.7 L604.5,193.0 L607.1,191.4 L609.7,189.9 L612.3,188.7 L615.0,187.6 L617.7,186.7 L620.5,186.0 L623.2,185.6 L626.0,185.3 L628.8,185.2 L631.6,185.3 L634.5,185.6 L637.3,186.0 L640.2,186.6 L643.0,187.3 L645.9,188.2 L648.7,189.2 L651.5,190.3 L654.4,191.5 L657.2,192.7 L660.0,194.1 L662.8,195.5 L665.5,197.0 L668.3,198.6 L671.0,200.2 L673.7,201.8 L676.3,203.5 L678.9,205.2 L681.5,206.9 L684.0,208.6 L686.5,210.3 L689.0,212.0 L691.4,213.7 L693.9,215.4 L696.3,217.1 L698.7,218.8 L701.1,220.5 L703.4,222.2 L705.8,223.8 L708.2,225.5 L710.6,227.2 L713.0,228.8 L715.4,230.5 L717.9,232.1 L720.3,233.7 L722.8,235.3 L725.3,236.9 L727.9,238.4 L730.4,240.0 L733.1,241.5 L735.7,243.0 L738.4,244.4 L741.1,245.8 L743.9,247.2 L746.7,248.5 L749.5,249.7 L752.3,250.9 L755.2,252.0 L758.0,253.0 L760.9,254.0 L763.8,254.8 L766.7,255.6 L769.6,256.2 L772.6,256.8 L775.5,257.2 L778.5,257.6 L781.4,257.8 L784.4,257.8 L787.3,257.8 L790.3,257.6 L793.2,257.2 L796.2,256.8 L799.1,256.2 L802.0,255.5 L804.9,254.8 L807.8,253.9 L810.7,252.9 L813.5,251.9 L816.4,250.8 L819.2,249.7 L821.9,248.5 L824.7,247.3 L827.4,246.0 L830.1,244.7 L832.8,243.4 L835.5,242.0 L838.2,240.6 L840.8,239.3 L843.4,237.9 L846.1,236.5 L848.7,235.1 L851.3,233.8 L854.0,232.4 L856.6,231.1 L859.3,229.8 L861.9,228.6 L864.6,227.3 L867.3,226.2 L870.0,225.0 L872.8,223.9 L875.5,222.9 L878.3,221.8 L881.2,220.8 L884.0,219.7 L886.9,218.6 L889.8,217.6 L892.8,216.6 L895.7,215.7 L898.7,214.9 L901.7,214.3 L904.6,213.7 L907.6,213.3 L910.6,213.1 L913.5,212.9 L916.4,212.9 L919.4,212.9 L922.3,213.1 L925.2,213.4 L928.1,213.8 L931.0,214.3 L933.9,214.9 L936.7,215.6 L939.6,216.4 L942.4,217.3 L945.2,218.3 L947.9,219.4 L950.7,220.6 L953.4,221.8 L956.1,223.1 L958.7,224.5 L961.4,226.0 L964.0,227.5 L966.5,229.1 L969.0,230.8 L971.5,232.5 L974.0,234.3 L976.4,236.2 L978.8,238.1 L981.1,240.0 L983.4,242.0 L985.6,244.1 L987.8,246.2 L990.0,248.3 L992.1,250.4 L994.1,252.6 L996.1,254.9 L998.1,257.1 L1000.0,259.4 L1001.9,261.7 L1003.7,264.1 L1005.5,266.4 L1007.3,268.8 L1009.0,271.2 L1010.7,273.7 L1012.4,276.1 L1014.1,278.5 L1015.8,281.0 L1017.4,283.5 L1019.0,286.0 L1020.7,288.5 L1022.3,291.0 L1023.9,293.5 L1025.6,296.0 L1027.2,298.6 L1028.8,301.1 L1030.5,303.6 L1032.1,306.1 L1033.7,308.6 L1035.4,311.2 L1037.0,313.7 L1038.7,316.2 L1040.3,318.7 L1042.0,321.3 L1043.7,323.8 L1045.3,326.3 L1047.0,328.8 L1048.7,331.4 L1050.3,333.9 L1052.0,336.4 L1053.7,338.9 L1055.4,341.4 L1057.0,343.9 L1058.7,346.4 L1060.4,348.9 L1062.1,351.3 L1063.8,353.8 L1065.5,356.3 L1067.2,358.7 L1068.9,361.2 L1070.6,363.6 L1072.3,366.1 L1074.0,368.5 L1075.7,370.9 L1077.5,373.4 L1079.2,375.8 L1080.9,378.2 L1082.7,380.6 L1084.4,383.0 L1086.2,385.4 L1088.0,387.8 L1089.7,390.2 L1091.5,392.5 L1093.3,394.9 L1095.1,397.3 L1096.9,399.6 L1098.8,402.0 L1100.6,404.3 L1102.4,406.7 L1104.3,409.0 L1106.2,411.3 L1108.0,413.7 L1109.9,416.0 L1111.8,418.3 L1113.8,420.6 L1115.7,422.9 L1117.6,425.2 L1119.6,427.5 L1121.6,429.7 L1123.6,432.0 L1125.6,434.3 L1127.6,436.5 L1129.6,438.8 L1131.7,441.1 L1133.8,443.3 L1135.9,445.5 L1138.0,447.7 L1140.1,449.9 L1142.3,452.1 L1144.5,454.2 L1146.7,456.3 L1148.9,458.4 L1151.1,460.4 L1153.4,462.4 L1155.8,464.3 L1158.1,466.1 L1160.5,467.9 L1162.9,469.6 L1165.4,471.2 L1167.9,472.8 L1170.4,474.3 L1172.9,475.7 L1175.5,477.1 L1178.1,478.4 L1180.8,479.6 L1183.4,480.8 L1186.1,482.0 L1188.8,483.1 L1191.6,484.2 L1194.3,485.3 L1197.1,486.4 L1199.9,487.5 L1202.6,488.5 L1205.5,489.6 L1208.3,490.6 L1211.1,491.7 L1213.9,492.7 L1216.7,493.8 L1219.6,494.8 L1222.4,495.9 L1225.2,497.0 L1228.0,498.1 L1230.9,499.2 L1233.7,500.3 L1236.5,501.5 L1239.3,502.6 L1242.1,503.8 L1244.8,505.0 L1247.6,506.3 L1250.3,507.5 L1253.1,508.8 L1255.8,510.1 L1258.5,511.4 L1261.1,512.8 L1263.8,514.2 L1266.4,515.7 L1269.0,517.1 L1271.5,518.6 L1274.1,520.2 L1276.6,521.8 L1279.0,523.5 L1281.5,525.1 L1283.9,526.9 L1286.2,528.7 L1288.5,530.5 L1290.8,532.4 L1293.0,534.3 L1295.2,536.3 L1297.4,538.3 L1299.6,540.4 L1301.7,542.5 L1303.7,544.6 L1305.8,546.8 L1307.8,549.0 L1309.8,551.2 L1311.7,553.5 L1313.6,555.8 L1315.5,558.1 L1317.4,560.5 L1319.3,562.8 L1321.1,565.3 L1322.9,567.7 L1324.7,570.1 L1326.5,572.6 L1328.2,575.1 L1330.0,577.6 L1331.7,580.1 L1333.4,582.6 L1335.1,585.2 L1336.8,587.7 L1338.5,590.3 L1340.1,592.9 L1341.8,595.4 L1343.4,598.0 L1345.0,600.6 L1346.7,603.2 L1348.3,605.7 L1349.9,608.3 L1351.5,610.9 L1353.1,613.4 L1354.7,616.0 L1356.3,618.5 L1357.9,621.1 L1359.5,623.6 L1361.1,626.1 L1362.8,628.6 L1364.4,631.1 L1366.0,633.5 L1367.6,636.0 L1369.3,638.4 L1370.9,640.8 L1372.6,643.1"/>
</g>
<g font-size="38.9px" text-anchor="middle">
<text x="196.5" y="889.8">0</text>
<text x="357.2" y="889.8">50</text>
<text x="517.9" y="889.8">100</text>
<text x="678.6" y="889.8">150</text>
<text x="839.4" y="889.8">200</text>
<text x="1000.1" y="889.8">250</text>
<text x="1160.8" y="889.8">300</text>
<text x="1321.5" y="889.8">350</text>
</g>
<g font-size="38.9px" text-anchor="end">
<text x="126.8" y="842.6">−10.0</text>
<text x="126.8" y="742.0">−7.5</text>
<text x="126.8" y="641.3">−5.0</text>
<text x="126.8" y="540.7">−2.5</text>
<text x="126.8" y="440.1">0.0</text>
<text x="126.8" y="339.5">2.5</text>
<text x="126.8" y="238.9">5.0</text>
<text x="126.8" y="138.3">7.5</text>
<text x="126.8" y="37.6">10.0</text>
</g>
<text transform="translate(784.9,943.3) scale(0.94,1)" font-size="43.9px" text-anchor="middle">day</text>
</svg></body></html>
